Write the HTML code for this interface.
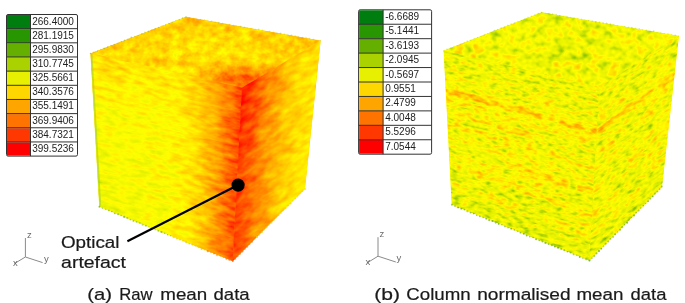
<!DOCTYPE html>
<html><head><meta charset="utf-8">
<style>
html,body{margin:0;padding:0;background:#fff;width:685px;height:303px;overflow:hidden}
svg{display:block;will-change:transform}
text{font-family:"Liberation Sans",sans-serif}
</style></head>
<body>
<svg width="685" height="303" viewBox="0 0 685 303">
<defs>
<filter id="blurG" x="-20%" y="-20%" width="140%" height="140%"><feGaussianBlur stdDeviation="5"/></filter>
<filter id="blurL" x="-20%" y="-20%" width="140%" height="140%"><feGaussianBlur stdDeviation="1.1"/></filter>
<filter id="fA1" x="-5%" y="-5%" width="110%" height="110%" color-interpolation-filters="sRGB">
  <feTurbulence type="fractalNoise" baseFrequency="0.07 0.22" numOctaves="3" seed="3" result="n"/>
  <feColorMatrix in="n" type="matrix" values="1 0 0 0 0  1 0 0 0 0  1 0 0 0 0  0 0 0 0 1" result="ng"/>
  <feComposite in="SourceGraphic" in2="ng" operator="arithmetic" k1="0" k2="1" k3="0.28" k4="-0.14" result="v"/>
  <feComponentTransfer in="v" result="c">
    <feFuncR type="table" tableValues="0.000 0.118 0.353 0.627 0.882 1.000 1.000 1.000 1.000 1.000 1.000"/>
    <feFuncG type="table" tableValues="0.431 0.549 0.667 0.804 0.933 1.000 0.843 0.667 0.471 0.235 0.000"/>
    <feFuncB type="table" tableValues="0.000 0.000 0.000 0.000 0.000 0.000 0.000 0.000 0.000 0.000 0.000"/>
  </feComponentTransfer>
  <feComposite in="c" in2="SourceAlpha" operator="in"/>
</filter>
<filter id="fA2" x="-5%" y="-5%" width="110%" height="110%" color-interpolation-filters="sRGB">
  <feTurbulence type="fractalNoise" baseFrequency="0.07 0.15" numOctaves="3" seed="7" result="n"/>
  <feColorMatrix in="n" type="matrix" values="1 0 0 0 0  1 0 0 0 0  1 0 0 0 0  0 0 0 0 1" result="ng"/>
  <feComposite in="SourceGraphic" in2="ng" operator="arithmetic" k1="0" k2="1" k3="0.28" k4="-0.14" result="v"/>
  <feComponentTransfer in="v" result="c">
    <feFuncR type="table" tableValues="0.000 0.118 0.353 0.627 0.882 1.000 1.000 1.000 1.000 1.000 1.000"/>
    <feFuncG type="table" tableValues="0.431 0.549 0.667 0.804 0.933 1.000 0.843 0.667 0.471 0.235 0.000"/>
    <feFuncB type="table" tableValues="0.000 0.000 0.000 0.000 0.000 0.000 0.000 0.000 0.000 0.000 0.000"/>
  </feComponentTransfer>
  <feComposite in="c" in2="SourceAlpha" operator="in"/>
</filter>
<filter id="fA3" x="-5%" y="-5%" width="110%" height="110%" color-interpolation-filters="sRGB">
  <feTurbulence type="fractalNoise" baseFrequency="0.1 0.12" numOctaves="3" seed="11" result="n"/>
  <feColorMatrix in="n" type="matrix" values="1 0 0 0 0  1 0 0 0 0  1 0 0 0 0  0 0 0 0 1" result="ng"/>
  <feComposite in="SourceGraphic" in2="ng" operator="arithmetic" k1="0" k2="1" k3="0.32" k4="-0.16" result="v"/>
  <feComponentTransfer in="v" result="c">
    <feFuncR type="table" tableValues="0.000 0.118 0.353 0.627 0.882 1.000 1.000 1.000 1.000 1.000 1.000"/>
    <feFuncG type="table" tableValues="0.431 0.549 0.667 0.804 0.933 1.000 0.843 0.667 0.471 0.235 0.000"/>
    <feFuncB type="table" tableValues="0.000 0.000 0.000 0.000 0.000 0.000 0.000 0.000 0.000 0.000 0.000"/>
  </feComponentTransfer>
  <feComposite in="c" in2="SourceAlpha" operator="in"/>
</filter>
<clipPath id="cp1"><polygon points="90.2,53.6 242.4,88.3 320.9,40.7 185.8,16.7"/></clipPath>
<clipPath id="cp2"><polygon points="90.4,53.3 242.4,87.7 232.9,261.3 99.2,206.8"/></clipPath>
<clipPath id="cp3"><polygon points="241.9,87.7 320.7,40.3 305.0,188.9 232.6,261.4"/></clipPath>
<clipPath id="cp4"><polygon points="443.4,50.8 599.8,87.6 679.2,36.0 541.5,12.2"/></clipPath>
<filter id="flt4" filterUnits="userSpaceOnUse" x="392.3" y="0.7" width="329.0" height="104.7" color-interpolation-filters="sRGB">
  <feTurbulence type="fractalNoise" baseFrequency="0.11 0.13" numOctaves="2" seed="21" result="n"/>
  <feColorMatrix in="n" type="matrix" values="1 0 0 0 0  1 0 0 0 0  1 0 0 0 0  0 0 0 0 1" result="ng"/>
  <feComposite in="SourceGraphic" in2="ng" operator="arithmetic" k1="0" k2="1" k3="0.5" k4="-0.25" result="v"/>
  <feComponentTransfer in="v" result="c">
    <feFuncR type="table" tableValues="0.000 0.118 0.353 0.627 0.882 1.000 1.000 1.000 1.000 1.000 1.000"/>
    <feFuncG type="table" tableValues="0.431 0.549 0.667 0.804 0.933 1.000 0.843 0.667 0.471 0.235 0.000"/>
    <feFuncB type="table" tableValues="0.000 0.000 0.000 0.000 0.000 0.000 0.000 0.000 0.000 0.000 0.000"/>
  </feComponentTransfer>
  <feComposite in="c" in2="SourceAlpha" operator="in"/>
</filter>
<clipPath id="cp5"><polygon points="443.6,50.5 599.8,87.0 589.5,260.6 451.7,204.7"/></clipPath>
<filter id="flt5" filterUnits="userSpaceOnUse" x="398.4" y="52.2" width="265.3" height="245.5" color-interpolation-filters="sRGB">
  <feTurbulence type="fractalNoise" baseFrequency="0.12 0.3" numOctaves="2" seed="5" result="n"/>
  <feColorMatrix in="n" type="matrix" values="1 0 0 0 0  1 0 0 0 0  1 0 0 0 0  0 0 0 0 1" result="ng"/>
  <feComposite in="SourceGraphic" in2="ng" operator="arithmetic" k1="0" k2="1" k3="0.5" k4="-0.25" result="v"/>
  <feComponentTransfer in="v" result="c">
    <feFuncR type="table" tableValues="0.000 0.118 0.353 0.627 0.882 1.000 1.000 1.000 1.000 1.000 1.000"/>
    <feFuncG type="table" tableValues="0.431 0.549 0.667 0.804 0.933 1.000 0.843 0.667 0.471 0.235 0.000"/>
    <feFuncB type="table" tableValues="0.000 0.000 0.000 0.000 0.000 0.000 0.000 0.000 0.000 0.000 0.000"/>
  </feComponentTransfer>
  <feComposite in="c" in2="SourceAlpha" operator="in"/>
</filter>
<clipPath id="cp6"><polygon points="599.3,87.0 679.0,35.6 662.0,186.9 589.2,260.7"/></clipPath>
<filter id="flt6" filterUnits="userSpaceOnUse" x="456.0" y="58.5" width="275.8" height="201.9" color-interpolation-filters="sRGB">
  <feTurbulence type="fractalNoise" baseFrequency="0.12 0.3" numOctaves="2" seed="9" result="n"/>
  <feColorMatrix in="n" type="matrix" values="1 0 0 0 0  1 0 0 0 0  1 0 0 0 0  0 0 0 0 1" result="ng"/>
  <feComposite in="SourceGraphic" in2="ng" operator="arithmetic" k1="0" k2="1" k3="0.5" k4="-0.25" result="v"/>
  <feComponentTransfer in="v" result="c">
    <feFuncR type="table" tableValues="0.000 0.118 0.353 0.627 0.882 1.000 1.000 1.000 1.000 1.000 1.000"/>
    <feFuncG type="table" tableValues="0.431 0.549 0.667 0.804 0.933 1.000 0.843 0.667 0.471 0.235 0.000"/>
    <feFuncB type="table" tableValues="0.000 0.000 0.000 0.000 0.000 0.000 0.000 0.000 0.000 0.000 0.000"/>
  </feComponentTransfer>
  <feComposite in="c" in2="SourceAlpha" operator="in"/>
</filter>
</defs>

<polygon points="90.6,53.6 186.0,17.0 320.5,40.7 304.8,188.6 232.7,261.0 99.5,206.5" fill="#ffa000"/><g clip-path="url(#cp1)"><g transform="rotate(0.00 242.1 88)" filter="url(#fA3)"><g transform="rotate(0.00 242.1 88)"><g filter="url(#blurG)"><polygon points="52.2,53.7 67.7,57.3 77.4,53.7 62.1,50.2" fill="#9c9c9c"/><polygon points="61.3,50.4 76.6,54.0 86.3,50.3 71.2,46.9" fill="#9c9c9c"/><polygon points="70.4,47.2 85.6,50.6 95.2,47.0 80.3,43.7" fill="#9c9c9c"/><polygon points="79.5,43.9 94.5,47.3 104.2,43.7 89.4,40.4" fill="#9c9c9c"/><polygon points="88.7,40.7 103.5,43.9 113.1,40.3 98.5,37.2" fill="#9c9c9c"/><polygon points="97.8,37.5 112.4,40.6 122.1,37.0 107.6,34.0" fill="#9c9c9c"/><polygon points="106.9,34.2 121.4,37.2 131.0,33.6 116.7,30.7" fill="#9c9c9c"/><polygon points="116.0,31.0 130.3,33.9 140.0,30.3 125.8,27.5" fill="#9c9c9c"/><polygon points="125.1,27.7 139.2,30.5 148.9,26.9 134.9,24.2" fill="#9c9c9c"/><polygon points="134.2,24.5 148.2,27.2 157.8,23.6 144.0,21.0" fill="#9d9d9d"/><polygon points="143.3,21.2 157.1,23.8 166.8,20.2 153.1,17.7" fill="#a0a0a0"/><polygon points="152.4,18.0 166.1,20.5 175.7,16.9 162.2,14.5" fill="#a3a3a3"/><polygon points="161.5,14.7 175.0,17.2 184.7,13.5 171.3,11.2" fill="#a6a6a6"/><polygon points="170.6,11.5 184.0,13.8 193.6,10.2 180.4,8.0" fill="#a6a6a6"/><polygon points="66.6,57.0 82.0,60.6 91.5,56.9 76.2,53.4" fill="#9c9c9c"/><polygon points="75.5,53.7 90.8,57.2 100.3,53.5 85.2,50.1" fill="#9c9c9c"/><polygon points="84.5,50.4 99.6,53.8 109.1,50.1 94.1,46.8" fill="#9c9c9c"/><polygon points="93.4,47.0 108.4,50.3 117.9,46.6 103.1,43.4" fill="#9c9c9c"/><polygon points="102.4,43.7 117.2,46.9 126.7,43.2 112.0,40.1" fill="#9c9c9c"/><polygon points="111.3,40.3 126.0,43.5 135.5,39.7 121.0,36.7" fill="#9c9c9c"/><polygon points="120.3,37.0 134.8,40.0 144.3,36.3 130.0,33.4" fill="#9c9c9c"/><polygon points="129.2,33.7 143.6,36.6 153.1,32.9 138.9,30.1" fill="#9c9c9c"/><polygon points="138.2,30.3 152.4,33.1 161.9,29.4 147.9,26.7" fill="#9c9c9c"/><polygon points="147.1,27.0 161.2,29.7 170.7,26.0 156.8,23.4" fill="#9d9d9d"/><polygon points="156.1,23.7 170.0,26.3 179.5,22.6 165.8,20.0" fill="#a0a0a0"/><polygon points="165.1,20.3 178.8,22.8 188.3,19.1 174.7,16.7" fill="#a3a3a3"/><polygon points="174.0,17.0 187.6,19.4 197.1,15.7 183.7,13.4" fill="#a6a6a6"/><polygon points="183.0,13.6 196.4,16.0 205.9,12.2 192.6,10.0" fill="#a6a6a6"/><polygon points="80.9,60.4 96.3,64.0 105.7,60.2 90.4,56.7" fill="#9b9b9b"/><polygon points="89.7,56.9 105.0,60.5 114.3,56.7 99.2,53.2" fill="#9b9b9b"/><polygon points="98.5,53.5 113.6,56.9 123.0,53.1 108.0,49.8" fill="#9b9b9b"/><polygon points="107.3,50.1 122.3,53.4 131.6,49.6 116.8,46.4" fill="#9b9b9b"/><polygon points="116.1,46.7 130.9,49.9 140.3,46.1 125.6,43.0" fill="#9b9b9b"/><polygon points="124.9,43.2 139.6,46.3 148.9,42.5 134.4,39.5" fill="#9b9b9b"/><polygon points="133.7,39.8 148.2,42.8 157.6,39.0 143.2,36.1" fill="#9b9b9b"/><polygon points="142.5,36.4 156.9,39.3 166.2,35.5 152.0,32.7" fill="#9b9b9b"/><polygon points="151.3,32.9 165.5,35.8 174.9,31.9 160.8,29.2" fill="#9b9b9b"/><polygon points="160.1,29.5 174.2,32.2 183.5,28.4 169.7,25.8" fill="#9c9c9c"/><polygon points="168.9,26.1 182.8,28.7 192.2,24.9 178.5,22.4" fill="#9f9f9f"/><polygon points="177.8,22.6 191.5,25.2 200.8,21.4 187.3,18.9" fill="#a2a2a2"/><polygon points="186.6,19.2 200.1,21.6 209.5,17.8 196.1,15.5" fill="#a5a5a5"/><polygon points="195.4,15.8 208.8,18.1 218.1,14.3 204.9,12.1" fill="#a5a5a5"/><polygon points="95.2,63.7 110.6,67.3 119.8,63.4 104.5,59.9" fill="#9a9a9a"/><polygon points="103.8,60.2 119.1,63.7 128.3,59.8 113.2,56.4" fill="#9a9a9a"/><polygon points="112.5,56.7 127.6,60.1 136.8,56.2 121.9,52.9" fill="#9a9a9a"/><polygon points="121.2,53.2 136.1,56.5 145.3,52.6 130.5,49.4" fill="#9a9a9a"/><polygon points="129.8,49.6 144.6,52.9 153.8,48.9 139.2,45.8" fill="#9a9a9a"/><polygon points="138.5,46.1 153.1,49.2 162.3,45.3 147.8,42.3" fill="#999999"/><polygon points="147.1,42.6 161.7,45.6 170.8,41.7 156.5,38.8" fill="#989898"/><polygon points="155.8,39.1 170.2,42.0 179.3,38.1 165.2,35.3" fill="#989898"/><polygon points="164.5,35.5 178.7,38.4 187.8,34.5 173.8,31.7" fill="#989898"/><polygon points="173.1,32.0 187.2,34.7 196.3,30.8 182.5,28.2" fill="#9a9a9a"/><polygon points="181.8,28.5 195.7,31.1 204.8,27.2 191.1,24.7" fill="#9e9e9e"/><polygon points="190.5,25.0 204.2,27.5 213.4,23.6 199.8,21.2" fill="#a1a1a1"/><polygon points="199.1,21.5 212.7,23.9 221.9,20.0 208.5,17.7" fill="#a4a4a4"/><polygon points="207.8,17.9 221.2,20.3 230.4,16.3 217.1,14.1" fill="#a4a4a4"/><polygon points="109.5,67.1 124.9,70.7 134.0,66.7 118.7,63.2" fill="#999999"/><polygon points="118.0,63.5 133.3,67.0 142.3,63.0 127.2,59.6" fill="#999999"/><polygon points="126.5,59.8 141.7,63.3 150.7,59.2 135.7,55.9" fill="#999999"/><polygon points="135.0,56.2 150.0,59.5 159.0,55.5 144.2,52.3" fill="#999999"/><polygon points="143.5,52.6 158.4,55.8 167.4,51.8 152.7,48.7" fill="#989898"/><polygon points="152.1,49.0 166.7,52.1 175.8,48.1 161.3,45.1" fill="#969696"/><polygon points="160.6,45.4 175.1,48.4 184.1,44.4 169.8,41.5" fill="#959595"/><polygon points="169.1,41.8 183.4,44.7 192.5,40.7 178.3,37.9" fill="#949494"/><polygon points="177.6,38.2 191.8,41.0 200.8,37.0 186.8,34.3" fill="#959595"/><polygon points="186.1,34.5 200.2,37.3 209.2,33.2 195.3,30.6" fill="#979797"/><polygon points="194.6,30.9 208.5,33.5 217.5,29.5 203.8,27.0" fill="#9c9c9c"/><polygon points="203.2,27.3 216.9,29.8 225.9,25.8 212.3,23.4" fill="#a0a0a0"/><polygon points="211.7,23.7 225.2,26.1 234.2,22.1 220.9,19.8" fill="#a3a3a3"/><polygon points="220.2,20.1 233.6,22.4 242.6,18.4 229.4,16.2" fill="#a3a3a3"/><polygon points="123.8,70.4 139.3,74.0 148.1,69.9 132.8,66.4" fill="#989898"/><polygon points="132.2,66.7 147.5,70.2 156.3,66.1 141.2,62.7" fill="#989898"/><polygon points="140.5,63.0 155.7,66.4 164.5,62.3 149.6,59.0" fill="#989898"/><polygon points="148.9,59.3 163.9,62.6 172.8,58.5 157.9,55.3" fill="#989898"/><polygon points="157.3,55.6 172.1,58.8 181.0,54.7 166.3,51.6" fill="#969696"/><polygon points="165.6,51.9 180.3,55.0 189.2,50.9 174.7,47.9" fill="#949494"/><polygon points="174.0,48.2 188.5,51.2 197.4,47.1 183.0,44.2" fill="#929292"/><polygon points="182.4,44.5 196.7,47.4 205.6,43.3 191.4,40.5" fill="#909090"/><polygon points="190.7,40.8 204.9,43.6 213.8,39.5 199.8,36.8" fill="#919191"/><polygon points="199.1,37.1 213.1,39.8 222.0,35.7 208.2,33.1" fill="#959595"/><polygon points="207.5,33.3 221.4,36.0 230.2,31.9 216.5,29.3" fill="#9a9a9a"/><polygon points="215.9,29.6 229.6,32.2 238.4,28.0 224.9,25.6" fill="#9f9f9f"/><polygon points="224.2,25.9 237.8,28.4 246.6,24.2 233.3,21.9" fill="#a2a2a2"/><polygon points="232.6,22.2 246.0,24.5 254.9,20.4 241.6,18.2" fill="#a2a2a2"/><polygon points="138.1,73.8 153.6,77.4 162.3,73.2 147.0,69.7" fill="#979797"/><polygon points="146.3,70.0 161.6,73.5 170.3,69.3 155.2,65.9" fill="#979797"/><polygon points="154.6,66.2 169.7,69.6 178.4,65.4 163.4,62.1" fill="#979797"/><polygon points="162.8,62.4 177.8,65.7 186.5,61.5 171.7,58.3" fill="#979797"/><polygon points="171.0,58.6 185.8,61.8 194.5,57.6 179.9,54.5" fill="#959595"/><polygon points="179.2,54.8 193.9,57.9 202.6,53.7 188.1,50.7" fill="#929292"/><polygon points="187.4,51.0 201.9,54.0 210.7,49.8 196.3,46.9" fill="#909090"/><polygon points="195.7,47.2 210.0,50.1 218.7,45.9 204.5,43.1" fill="#8d8d8d"/><polygon points="203.9,43.4 218.1,46.2 226.8,42.0 212.8,39.3" fill="#8f8f8f"/><polygon points="212.1,39.6 226.1,42.3 234.8,38.1 221.0,35.5" fill="#939393"/><polygon points="220.3,35.8 234.2,38.4 242.9,34.2 229.2,31.7" fill="#999999"/><polygon points="228.5,32.0 242.3,34.5 251.0,30.3 237.4,27.9" fill="#9e9e9e"/><polygon points="236.8,28.2 250.3,30.6 259.0,26.4 245.6,24.1" fill="#a1a1a1"/><polygon points="245.0,24.4 258.4,26.7 267.1,22.5 253.9,20.3" fill="#a1a1a1"/><polygon points="152.4,77.1 167.9,80.7 176.4,76.4 161.1,72.9" fill="#969696"/><polygon points="160.5,73.2 175.8,76.7 184.3,72.4 169.2,69.0" fill="#969696"/><polygon points="168.6,69.3 183.7,72.7 192.3,68.4 177.3,65.1" fill="#969696"/><polygon points="176.6,65.4 191.6,68.8 200.2,64.4 185.4,61.2" fill="#969696"/><polygon points="184.7,61.5 199.5,64.8 208.1,60.5 193.4,57.3" fill="#959595"/><polygon points="192.8,57.7 207.5,60.8 216.0,56.5 201.5,53.5" fill="#929292"/><polygon points="200.9,53.8 215.4,56.8 223.9,52.5 209.6,49.6" fill="#909090"/><polygon points="208.9,49.9 223.3,52.8 231.8,48.5 217.7,45.7" fill="#8f8f8f"/><polygon points="217.0,46.0 231.2,48.8 239.8,44.5 225.7,41.8" fill="#909090"/><polygon points="225.1,42.1 239.1,44.8 247.7,40.5 233.8,37.9" fill="#939393"/><polygon points="233.2,38.2 247.0,40.8 255.6,36.5 241.9,34.0" fill="#999999"/><polygon points="241.2,34.3 255.0,36.8 263.5,32.5 250.0,30.1" fill="#9e9e9e"/><polygon points="249.3,30.4 262.9,32.8 271.4,28.5 258.0,26.2" fill="#a1a1a1"/><polygon points="257.4,26.5 270.8,28.8 279.3,24.5 266.1,22.3" fill="#a1a1a1"/><polygon points="166.7,80.5 182.2,84.1 190.6,79.7 175.3,76.2" fill="#989898"/><polygon points="174.7,76.5 190.0,80.0 198.3,75.6 183.2,72.2" fill="#989898"/><polygon points="182.6,72.5 197.7,75.9 206.1,71.5 191.2,68.2" fill="#9f9f9f"/><polygon points="190.5,68.5 205.5,71.8 213.9,67.4 199.1,64.2" fill="#a1a1a1"/><polygon points="198.4,64.5 213.3,67.7 221.7,63.3 207.0,60.2" fill="#9b9b9b"/><polygon points="206.4,60.5 221.0,63.7 229.4,59.2 214.9,56.2" fill="#949494"/><polygon points="214.3,56.6 228.8,59.6 237.2,55.2 222.9,52.3" fill="#929292"/><polygon points="222.2,52.6 236.6,55.5 245.0,51.1 230.8,48.3" fill="#929292"/><polygon points="230.2,48.6 244.3,51.4 252.7,47.0 238.7,44.3" fill="#929292"/><polygon points="238.1,44.6 252.1,47.3 260.5,42.9 246.7,40.3" fill="#959595"/><polygon points="246.0,40.6 259.9,43.2 268.3,38.8 254.6,36.3" fill="#9a9a9a"/><polygon points="253.9,36.6 267.7,39.2 276.1,34.7 262.5,32.3" fill="#9e9e9e"/><polygon points="261.9,32.7 275.4,35.1 283.8,30.7 270.4,28.4" fill="#a1a1a1"/><polygon points="269.8,28.7 283.2,31.0 291.6,26.6 278.4,24.4" fill="#a1a1a1"/><polygon points="181.0,83.8 196.5,87.4 204.7,82.9 189.4,79.4" fill="#a9a9a9"/><polygon points="188.8,79.7 204.1,83.2 212.4,78.7 197.2,75.3" fill="#a9a9a9"/><polygon points="196.6,75.7 211.7,79.1 220.0,74.6 205.0,71.3" fill="#b2b2b2"/><polygon points="204.4,71.6 219.4,74.9 227.6,70.4 212.8,67.2" fill="#b4b4b4"/><polygon points="212.2,67.5 227.0,70.7 235.2,66.2 220.6,63.1" fill="#adadad"/><polygon points="220.0,63.4 234.6,66.5 242.8,62.0 228.4,59.0" fill="#9f9f9f"/><polygon points="227.7,59.4 242.2,62.4 250.5,57.9 236.1,54.9" fill="#959595"/><polygon points="235.5,55.3 249.9,58.2 258.1,53.7 243.9,50.9" fill="#949494"/><polygon points="243.3,51.2 257.5,54.0 265.7,49.5 251.7,46.8" fill="#959595"/><polygon points="251.1,47.1 265.1,49.8 273.3,45.3 259.5,42.7" fill="#979797"/><polygon points="258.9,43.0 272.7,45.7 281.0,41.2 267.3,38.6" fill="#9b9b9b"/><polygon points="266.6,39.0 280.4,41.5 288.6,37.0 275.0,34.6" fill="#9e9e9e"/><polygon points="274.4,34.9 288.0,37.3 296.2,32.8 282.8,30.5" fill="#a1a1a1"/><polygon points="282.2,30.8 295.6,33.1 303.8,28.6 290.6,26.4" fill="#a1a1a1"/><polygon points="195.4,87.2 210.8,90.8 218.9,86.2 203.6,82.7" fill="#b7b7b7"/><polygon points="203.0,83.0 218.3,86.5 226.4,81.9 211.2,78.5" fill="#b7b7b7"/><polygon points="210.6,78.8 225.8,82.2 233.8,77.6 218.9,74.3" fill="#c4c4c4"/><polygon points="218.3,74.7 233.2,78.0 241.3,73.4 226.5,70.1" fill="#c8c8c8"/><polygon points="225.9,70.5 240.7,73.7 248.8,69.1 234.1,66.0" fill="#bdbdbd"/><polygon points="233.5,66.3 248.2,69.4 256.3,64.8 241.8,61.8" fill="#ababab"/><polygon points="241.2,62.1 255.7,65.2 263.7,60.6 249.4,57.6" fill="#979797"/><polygon points="248.8,58.0 263.1,60.9 271.2,56.3 257.0,53.5" fill="#969696"/><polygon points="256.4,53.8 270.6,56.6 278.7,52.0 264.7,49.3" fill="#969696"/><polygon points="264.1,49.6 278.1,52.4 286.2,47.7 272.3,45.1" fill="#989898"/><polygon points="271.7,45.5 285.6,48.1 293.7,43.5 280.0,41.0" fill="#9b9b9b"/><polygon points="279.3,41.3 293.1,43.8 301.1,39.2 287.6,36.8" fill="#9e9e9e"/><polygon points="287.0,37.1 300.5,39.6 308.6,34.9 295.2,32.6" fill="#a1a1a1"/><polygon points="294.6,33.0 308.0,35.3 316.1,30.7 302.9,28.5" fill="#a1a1a1"/><polygon points="209.7,90.5 225.1,94.1 233.0,89.4 217.7,85.9" fill="#bfbfbf"/><polygon points="217.2,86.2 232.4,89.8 240.4,85.0 225.2,81.6" fill="#bfbfbf"/><polygon points="224.6,82.0 239.8,85.4 247.7,80.7 232.7,77.4" fill="#d2d2d2"/><polygon points="232.1,77.7 247.1,81.0 255.0,76.3 240.2,73.1" fill="#dadada"/><polygon points="239.6,73.5 254.4,76.7 262.4,72.0 247.7,68.9" fill="#c7c7c7"/><polygon points="247.1,69.2 261.8,72.3 269.7,67.6 255.2,64.6" fill="#b1b1b1"/><polygon points="254.6,64.9 269.1,68.0 277.0,63.2 262.7,60.3" fill="#9c9c9c"/><polygon points="262.1,60.7 276.4,63.6 284.3,58.9 270.2,56.1" fill="#969696"/><polygon points="269.6,56.4 283.8,59.2 291.7,54.5 277.7,51.8" fill="#969696"/><polygon points="277.1,52.2 291.1,54.9 299.0,50.2 285.1,47.6" fill="#989898"/><polygon points="284.6,47.9 298.4,50.5 306.3,45.8 292.6,43.3" fill="#9b9b9b"/><polygon points="292.0,43.6 305.8,46.2 313.7,41.4 300.1,39.0" fill="#9e9e9e"/><polygon points="299.5,39.4 313.1,41.8 321.0,37.1 307.6,34.8" fill="#a1a1a1"/><polygon points="307.0,35.1 320.4,37.4 328.3,32.7 315.1,30.5" fill="#a1a1a1"/><polygon points="224.0,93.8 239.4,97.5 247.2,92.7 231.9,89.1" fill="#bebebe"/><polygon points="231.3,89.5 246.6,93.0 254.4,88.2 239.2,84.8" fill="#bebebe"/><polygon points="238.7,85.1 253.8,88.6 261.6,83.8 246.6,80.4" fill="#d0d0d0"/><polygon points="246.0,80.8 261.0,84.1 268.7,79.3 253.9,76.1" fill="#d7d7d7"/><polygon points="253.3,76.4 268.2,79.7 275.9,74.8 261.3,71.7" fill="#c5c5c5"/><polygon points="260.7,72.1 275.3,75.2 283.1,70.4 268.6,67.4" fill="#b1b1b1"/><polygon points="268.0,67.7 282.5,70.7 290.3,65.9 276.0,63.0" fill="#9b9b9b"/><polygon points="275.4,63.4 289.7,66.3 297.5,61.5 283.3,58.7" fill="#969696"/><polygon points="282.7,59.0 296.9,61.8 304.7,57.0 290.6,54.3" fill="#969696"/><polygon points="290.1,54.7 304.1,57.4 311.8,52.6 298.0,50.0" fill="#989898"/><polygon points="297.4,50.3 311.3,52.9 319.0,48.1 305.3,45.6" fill="#9b9b9b"/><polygon points="304.7,46.0 318.5,48.5 326.2,43.7 312.7,41.3" fill="#9e9e9e"/><polygon points="312.1,41.6 325.6,44.0 333.4,39.2 320.0,36.9" fill="#a1a1a1"/><polygon points="319.4,37.3 332.8,39.6 340.6,34.8 327.4,32.6" fill="#a1a1a1"/><polygon points="238.3,97.2 253.7,100.8 261.3,95.9 246.1,92.4" fill="#bebebe"/><polygon points="245.5,92.8 260.8,96.3 268.4,91.4 253.2,88.0" fill="#bebebe"/><polygon points="252.7,88.3 267.8,91.7 275.4,86.8 260.4,83.5" fill="#d0d0d0"/><polygon points="259.9,83.9 274.9,87.2 282.5,82.3 267.6,79.1" fill="#d7d7d7"/><polygon points="267.1,79.4 281.9,82.6 289.5,77.7 274.8,74.6" fill="#c5c5c5"/><polygon points="274.3,75.0 288.9,78.1 296.5,73.2 282.0,70.2" fill="#b1b1b1"/><polygon points="281.5,70.5 296.0,73.5 303.6,68.6 289.2,65.7" fill="#9b9b9b"/><polygon points="288.7,66.1 303.0,69.0 310.6,64.1 296.4,61.3" fill="#969696"/><polygon points="295.8,61.6 310.0,64.5 317.6,59.5 303.6,56.8" fill="#969696"/><polygon points="303.0,57.2 317.1,59.9 324.7,55.0 310.8,52.4" fill="#989898"/><polygon points="310.2,52.7 324.1,55.4 331.7,50.5 318.0,47.9" fill="#9b9b9b"/><polygon points="317.4,48.3 331.1,50.8 338.7,45.9 325.2,43.5" fill="#9e9e9e"/><polygon points="324.6,43.9 338.2,46.3 345.8,41.4 332.4,39.1" fill="#a1a1a1"/><polygon points="331.8,39.4 345.2,41.7 352.8,36.8 339.6,34.6" fill="#a1a1a1"/></g></g></g></g><g clip-path="url(#cp2)"><g transform="rotate(12.79 242.1 88)" filter="url(#fA1)"><g transform="rotate(-12.79 242.1 88)"><g filter="url(#blurG)"><polygon points="65.5,25.3 81.0,28.4 82.0,43.7 66.7,40.3" fill="#999999"/><polygon points="66.6,39.2 81.9,42.5 82.9,57.7 67.8,54.2" fill="#999999"/><polygon points="67.7,53.1 82.8,56.6 83.8,71.8 68.9,68.1" fill="#929292"/><polygon points="68.8,67.0 83.7,70.7 84.7,85.9 69.9,82.0" fill="#8b8b8b"/><polygon points="69.9,80.9 84.7,84.8 85.6,100.0 71.0,96.0" fill="#848484"/><polygon points="70.9,94.8 85.6,98.9 86.6,114.1 72.1,109.9" fill="#7d7d7d"/><polygon points="72.0,108.8 86.5,113.0 87.5,128.2 73.2,123.8" fill="#7d7d7d"/><polygon points="73.1,122.7 87.4,127.1 88.4,142.3 74.3,137.7" fill="#7c7c7c"/><polygon points="74.2,136.6 88.3,141.2 89.3,156.4 75.4,151.6" fill="#7a7a7a"/><polygon points="75.3,150.5 89.2,155.3 90.2,170.5 76.5,165.5" fill="#787878"/><polygon points="76.4,164.4 90.2,169.4 91.2,184.6 77.6,179.4" fill="#767676"/><polygon points="77.5,178.3 91.1,183.5 92.1,198.7 78.7,193.3" fill="#747474"/><polygon points="78.6,192.2 92.0,197.6 93.0,212.8 79.7,207.2" fill="#737373"/><polygon points="79.7,206.1 92.9,211.7 93.9,226.9 80.8,221.2" fill="#737373"/><polygon points="79.8,28.2 95.3,31.3 96.1,46.7 80.8,43.4" fill="#999999"/><polygon points="80.8,42.3 96.1,45.6 96.9,61.0 81.8,57.5" fill="#999999"/><polygon points="81.7,56.4 96.8,59.9 97.7,75.3 82.7,71.6" fill="#929292"/><polygon points="82.6,70.4 97.6,74.1 98.4,89.6 83.6,85.7" fill="#8b8b8b"/><polygon points="83.6,84.5 98.4,88.4 99.2,103.8 84.6,99.7" fill="#848484"/><polygon points="84.5,98.6 99.1,102.7 99.9,118.1 85.5,113.8" fill="#7d7d7d"/><polygon points="85.4,112.7 99.9,117.0 100.7,132.4 86.4,127.9" fill="#7d7d7d"/><polygon points="86.3,126.8 100.6,131.2 101.5,146.6 87.4,142.0" fill="#7c7c7c"/><polygon points="87.3,140.9 101.4,145.5 102.2,160.9 88.3,156.1" fill="#7a7a7a"/><polygon points="88.2,155.0 102.2,159.8 103.0,175.2 89.2,170.2" fill="#787878"/><polygon points="89.1,169.0 102.9,174.0 103.7,189.5 90.1,184.2" fill="#767676"/><polygon points="90.1,183.1 103.7,188.3 104.5,203.7 91.1,198.3" fill="#747474"/><polygon points="91.0,197.2 104.4,202.6 105.2,218.0 92.0,212.4" fill="#737373"/><polygon points="91.9,211.3 105.2,216.9 106.0,232.3 92.9,226.5" fill="#737373"/><polygon points="94.2,31.1 109.6,34.2 110.3,49.8 95.0,46.5" fill="#979797"/><polygon points="94.9,45.4 110.2,48.7 110.9,64.3 95.8,60.8" fill="#979797"/><polygon points="95.7,59.6 110.8,63.1 111.5,78.7 96.5,75.0" fill="#919191"/><polygon points="96.5,73.9 111.5,77.6 112.1,93.2 97.3,89.3" fill="#8a8a8a"/><polygon points="97.3,88.1 112.1,92.0 112.7,107.6 98.1,103.5" fill="#838383"/><polygon points="98.0,102.4 112.7,106.5 113.3,122.1 98.9,117.8" fill="#7d7d7d"/><polygon points="98.8,116.6 113.3,120.9 113.9,136.5 99.6,132.0" fill="#7d7d7d"/><polygon points="99.6,130.9 113.9,135.4 114.5,151.0 100.4,146.3" fill="#7d7d7d"/><polygon points="100.3,145.2 114.5,149.8 115.1,165.4 101.2,160.6" fill="#7b7b7b"/><polygon points="101.1,159.4 115.1,164.2 115.7,179.8 102.0,174.8" fill="#797979"/><polygon points="101.9,173.7 115.7,178.7 116.3,194.3 102.7,189.1" fill="#787878"/><polygon points="102.7,187.9 116.3,193.1 116.9,208.7 103.5,203.3" fill="#767676"/><polygon points="103.4,202.2 116.9,207.6 117.5,223.2 104.3,217.6" fill="#747474"/><polygon points="104.2,216.4 117.5,222.0 118.1,237.6 105.0,231.8" fill="#747474"/><polygon points="108.5,34.0 124.0,37.1 124.5,52.9 109.2,49.6" fill="#949494"/><polygon points="109.1,48.4 124.4,51.8 124.9,67.6 109.8,64.0" fill="#949494"/><polygon points="109.7,62.9 124.9,66.4 125.3,82.2 110.4,78.5" fill="#8f8f8f"/><polygon points="110.3,77.3 125.3,81.0 125.8,96.8 111.0,92.9" fill="#898989"/><polygon points="111.0,91.7 125.7,95.6 126.2,111.4 111.6,107.3" fill="#838383"/><polygon points="111.6,106.2 126.2,110.2 126.7,126.0 112.2,121.7" fill="#7e7e7e"/><polygon points="112.2,120.6 126.6,124.9 127.1,140.6 112.8,136.2" fill="#7e7e7e"/><polygon points="112.8,135.0 127.1,139.5 127.6,155.3 113.5,150.6" fill="#7d7d7d"/><polygon points="113.4,149.5 127.5,154.1 128.0,169.9 114.1,165.0" fill="#7c7c7c"/><polygon points="114.0,163.9 128.0,168.7 128.4,184.5 114.7,179.5" fill="#7a7a7a"/><polygon points="114.6,178.3 128.4,183.3 128.9,199.1 115.3,193.9" fill="#797979"/><polygon points="115.3,192.7 128.9,197.9 129.3,213.7 115.9,208.3" fill="#777777"/><polygon points="115.9,207.2 129.3,212.6 129.8,228.4 116.5,222.8" fill="#767676"/><polygon points="116.5,221.6 129.7,227.2 130.2,243.0 117.1,237.2" fill="#767676"/><polygon points="122.8,36.9 138.3,40.1 138.6,56.0 123.3,52.7" fill="#929292"/><polygon points="123.3,51.5 138.6,54.8 138.9,70.8 123.8,67.3" fill="#929292"/><polygon points="123.7,66.1 138.9,69.6 139.2,85.6 124.2,81.9" fill="#8d8d8d"/><polygon points="124.2,80.7 139.2,84.4 139.5,100.4 124.7,96.5" fill="#888888"/><polygon points="124.7,95.3 139.4,99.2 139.8,115.2 125.1,111.1" fill="#838383"/><polygon points="125.1,109.9 139.7,114.0 140.0,130.0 125.6,125.7" fill="#7e7e7e"/><polygon points="125.6,124.5 140.0,128.8 140.3,144.8 126.1,140.3" fill="#7e7e7e"/><polygon points="126.0,139.1 140.3,143.6 140.6,159.6 126.5,154.9" fill="#7e7e7e"/><polygon points="126.5,153.7 140.6,158.4 140.9,174.4 127.0,169.5" fill="#7d7d7d"/><polygon points="126.9,168.4 140.9,173.2 141.2,189.2 127.4,184.1" fill="#7b7b7b"/><polygon points="127.4,183.0 141.2,188.0 141.5,203.9 127.9,198.7" fill="#7a7a7a"/><polygon points="127.8,197.6 141.5,202.8 141.8,218.7 128.3,213.3" fill="#797979"/><polygon points="128.3,212.2 141.7,217.6 142.0,233.5 128.8,227.9" fill="#787878"/><polygon points="128.8,226.8 142.0,232.3 142.3,248.3 129.3,242.5" fill="#787878"/><polygon points="137.2,39.8 152.6,43.0 152.8,59.1 137.5,55.8" fill="#909090"/><polygon points="137.5,54.6 152.8,57.9 152.9,74.1 137.8,70.6" fill="#909090"/><polygon points="137.8,69.4 152.9,72.9 153.0,89.1 138.1,85.3" fill="#8c8c8c"/><polygon points="138.1,84.2 153.0,87.9 153.2,104.0 138.4,100.1" fill="#878787"/><polygon points="138.4,98.9 153.1,102.8 153.3,119.0 138.7,114.9" fill="#838383"/><polygon points="138.7,113.7 153.3,117.8 153.4,133.9 139.0,129.7" fill="#7f7f7f"/><polygon points="138.9,128.5 153.4,132.7 153.5,148.9 139.3,144.4" fill="#7f7f7f"/><polygon points="139.2,143.3 153.5,147.7 153.7,163.9 139.6,159.2" fill="#7e7e7e"/><polygon points="139.5,158.0 153.7,162.7 153.8,178.8 139.9,174.0" fill="#7d7d7d"/><polygon points="139.8,172.8 153.8,177.6 153.9,193.8 140.2,188.8" fill="#7c7c7c"/><polygon points="140.1,187.6 153.9,192.6 154.1,208.8 140.5,203.6" fill="#7c7c7c"/><polygon points="140.4,202.4 154.0,207.6 154.2,223.7 140.8,218.3" fill="#7b7b7b"/><polygon points="140.7,217.2 154.2,222.5 154.3,238.7 141.1,233.1" fill="#7a7a7a"/><polygon points="141.0,231.9 154.3,237.5 154.4,253.7 141.4,247.9" fill="#7a7a7a"/><polygon points="151.5,42.7 167.0,45.9 166.9,62.2 151.6,58.9" fill="#8d8d8d"/><polygon points="151.6,57.7 166.9,61.0 166.9,77.4 151.8,73.8" fill="#8d8d8d"/><polygon points="151.8,72.6 166.9,76.1 166.9,92.5 151.9,88.8" fill="#8a8a8a"/><polygon points="151.9,87.6 166.9,91.3 166.8,107.6 152.1,103.7" fill="#868686"/><polygon points="152.0,102.5 166.8,106.4 166.8,122.8 152.2,118.7" fill="#838383"/><polygon points="152.2,117.5 166.8,121.6 166.8,137.9 152.3,133.6" fill="#7f7f7f"/><polygon points="152.3,132.4 166.8,136.7 166.8,153.0 152.5,148.6" fill="#7f7f7f"/><polygon points="152.5,147.4 166.8,151.8 166.7,168.2 152.6,163.5" fill="#7f7f7f"/><polygon points="152.6,162.3 166.7,167.0 166.7,183.3 152.8,178.5" fill="#7e7e7e"/><polygon points="152.8,177.3 166.7,182.1 166.7,198.5 152.9,193.4" fill="#7e7e7e"/><polygon points="152.9,192.2 166.7,197.2 166.6,213.6 153.0,208.4" fill="#7d7d7d"/><polygon points="153.0,207.2 166.6,212.4 166.6,228.7 153.2,223.3" fill="#7c7c7c"/><polygon points="153.2,222.1 166.6,227.5 166.6,243.9 153.3,238.3" fill="#7c7c7c"/><polygon points="153.3,237.1 166.6,242.7 166.5,259.0 153.5,253.2" fill="#7c7c7c"/><polygon points="165.8,45.6 181.3,48.8 181.1,65.3 165.8,62.0" fill="#8d8d8d"/><polygon points="165.8,60.8 181.1,64.1 180.9,80.6 165.8,77.1" fill="#8d8d8d"/><polygon points="165.8,75.9 180.9,79.4 180.7,95.9 165.8,92.2" fill="#8b8b8b"/><polygon points="165.8,91.0 180.7,94.7 180.5,111.2 165.7,107.3" fill="#888888"/><polygon points="165.7,106.1 180.5,110.0 180.3,126.6 165.7,122.5" fill="#858585"/><polygon points="165.7,121.3 180.4,125.3 180.2,141.9 165.7,137.6" fill="#828282"/><polygon points="165.7,136.4 180.2,140.6 180.0,157.2 165.7,152.7" fill="#828282"/><polygon points="165.7,151.5 180.0,156.0 179.8,172.5 165.7,167.8" fill="#828282"/><polygon points="165.7,166.6 179.8,171.3 179.6,187.8 165.7,183.0" fill="#828282"/><polygon points="165.7,181.8 179.6,186.6 179.4,203.1 165.6,198.1" fill="#818181"/><polygon points="165.6,196.9 179.4,201.9 179.2,218.4 165.6,213.2" fill="#818181"/><polygon points="165.6,212.0 179.2,217.2 179.0,233.7 165.6,228.3" fill="#818181"/><polygon points="165.6,227.1 179.0,232.5 178.8,249.0 165.6,243.5" fill="#808080"/><polygon points="165.6,242.2 178.9,247.8 178.7,264.4 165.6,258.6" fill="#808080"/><polygon points="180.1,48.5 195.6,51.7 195.2,68.4 180.0,65.1" fill="#929292"/><polygon points="180.0,63.8 195.3,67.2 194.9,83.9 179.8,80.4" fill="#929292"/><polygon points="179.8,79.1 194.9,82.7 194.6,99.4 179.6,95.7" fill="#909090"/><polygon points="179.6,94.4 194.6,98.1 194.2,114.9 179.4,111.0" fill="#8e8e8e"/><polygon points="179.4,109.7 194.2,113.6 193.9,130.3 179.3,126.3" fill="#8c8c8c"/><polygon points="179.3,125.0 193.9,129.1 193.5,145.8 179.1,141.6" fill="#8a8a8a"/><polygon points="179.1,140.3 193.5,144.6 193.2,161.3 178.9,156.8" fill="#8a8a8a"/><polygon points="178.9,155.6 193.2,160.1 192.8,176.8 178.7,172.1" fill="#8a8a8a"/><polygon points="178.7,170.9 192.9,175.6 192.5,192.3 178.6,187.4" fill="#8a8a8a"/><polygon points="178.6,186.2 192.5,191.0 192.1,207.8 178.4,202.7" fill="#8a8a8a"/><polygon points="178.4,201.5 192.2,206.5 191.8,223.3 178.2,218.0" fill="#8a8a8a"/><polygon points="178.2,216.8 191.8,222.0 191.5,238.7 178.0,233.3" fill="#898989"/><polygon points="178.0,232.1 191.5,237.5 191.1,254.2 177.9,248.6" fill="#898989"/><polygon points="177.9,247.4 191.1,253.0 190.8,269.7 177.7,263.9" fill="#898989"/><polygon points="194.5,51.5 209.9,54.6 209.4,71.5 194.1,68.2" fill="#9e9e9e"/><polygon points="194.1,66.9 209.4,70.2 208.9,87.2 193.8,83.6" fill="#9e9e9e"/><polygon points="193.8,82.4 208.9,85.9 208.4,102.8 193.4,99.1" fill="#9d9d9d"/><polygon points="193.5,97.9 208.4,101.6 207.9,118.5 193.1,114.6" fill="#9c9c9c"/><polygon points="193.1,113.3 207.9,117.2 207.4,134.1 192.8,130.0" fill="#9a9a9a"/><polygon points="192.8,128.8 207.4,132.9 206.9,149.8 192.5,145.5" fill="#999999"/><polygon points="192.5,144.3 206.9,148.5 206.4,165.4 192.1,161.0" fill="#999999"/><polygon points="192.1,159.7 206.4,164.2 205.9,181.1 191.8,176.5" fill="#999999"/><polygon points="191.8,175.2 205.9,179.9 205.4,196.8 191.5,191.9" fill="#999999"/><polygon points="191.5,190.7 205.4,195.5 204.9,212.4 191.1,207.4" fill="#999999"/><polygon points="191.1,206.2 204.9,211.2 204.4,228.1 190.8,222.9" fill="#999999"/><polygon points="190.8,221.6 204.4,226.8 203.9,243.7 190.5,238.3" fill="#999999"/><polygon points="190.5,237.1 203.9,242.5 203.4,259.4 190.1,253.8" fill="#999999"/><polygon points="190.2,252.6 203.4,258.1 202.9,275.1 189.8,269.3" fill="#999999"/><polygon points="208.8,54.4 224.3,57.5 223.6,74.6 208.3,71.3" fill="#b1b1b1"/><polygon points="208.3,70.0 223.6,73.3 222.9,90.4 207.8,86.9" fill="#b1b1b1"/><polygon points="207.8,85.6 223.0,89.2 222.2,106.3 207.3,102.5" fill="#b1b1b1"/><polygon points="207.3,101.3 222.3,105.0 221.6,122.1 206.8,118.2" fill="#b0b0b0"/><polygon points="206.8,116.9 221.6,120.8 220.9,137.9 206.3,133.8" fill="#afafaf"/><polygon points="206.4,132.6 221.0,136.7 220.3,153.8 205.8,149.5" fill="#afafaf"/><polygon points="205.9,148.2 220.3,152.5 219.6,169.6 205.3,165.1" fill="#afafaf"/><polygon points="205.4,163.9 219.7,168.3 218.9,185.4 204.8,180.8" fill="#afafaf"/><polygon points="204.9,179.5 219.0,184.1 218.3,201.2 204.4,196.4" fill="#afafaf"/><polygon points="204.4,195.2 218.3,200.0 217.6,217.1 203.9,212.1" fill="#afafaf"/><polygon points="203.9,210.8 217.7,215.8 217.0,232.9 203.4,227.7" fill="#afafaf"/><polygon points="203.4,226.4 217.0,231.6 216.3,248.7 202.9,243.3" fill="#afafaf"/><polygon points="202.9,242.1 216.3,247.5 215.6,264.6 202.4,259.0" fill="#afafaf"/><polygon points="202.4,257.7 215.7,263.3 215.0,280.4 201.9,274.6" fill="#afafaf"/><polygon points="223.1,57.3 238.6,60.4 237.7,77.7 222.4,74.3" fill="#c9c9c9"/><polygon points="222.5,73.1 237.8,76.4 236.9,93.7 221.8,90.2" fill="#c9c9c9"/><polygon points="221.8,88.9 237.0,92.4 236.1,109.7 221.1,106.0" fill="#c9c9c9"/><polygon points="221.2,104.7 236.2,108.4 235.3,125.7 220.5,121.8" fill="#c9c9c9"/><polygon points="220.5,120.5 235.3,124.4 234.4,141.7 219.8,137.6" fill="#c9c9c9"/><polygon points="219.9,136.4 234.5,140.4 233.6,157.7 219.2,153.4" fill="#c9c9c9"/><polygon points="219.2,152.2 233.7,156.4 232.8,173.7 218.5,169.3" fill="#c9c9c9"/><polygon points="218.6,168.0 232.9,172.4 232.0,189.7 217.9,185.1" fill="#c9c9c9"/><polygon points="217.9,183.8 232.1,188.4 231.2,205.7 217.2,200.9" fill="#c9c9c9"/><polygon points="217.3,199.6 231.2,204.4 230.4,221.7 216.6,216.7" fill="#c9c9c9"/><polygon points="216.7,215.4 230.4,220.5 229.5,237.7 216.0,232.5" fill="#c9c9c9"/><polygon points="216.0,231.3 229.6,236.5 228.7,253.7 215.3,248.3" fill="#c9c9c9"/><polygon points="215.4,247.1 228.8,252.5 227.9,269.7 214.7,264.2" fill="#c9c9c9"/><polygon points="214.7,262.9 228.0,268.5 227.1,285.7 214.0,280.0" fill="#c9c9c9"/><polygon points="237.5,60.2 252.9,63.3 251.9,80.8 236.6,77.4" fill="#e3e3e3"/><polygon points="236.7,76.2 252.0,79.5 250.9,97.0 235.8,93.4" fill="#e3e3e3"/><polygon points="235.8,92.2 251.0,95.7 249.9,113.1 235.0,109.4" fill="#e3e3e3"/><polygon points="235.0,108.1 250.0,111.8 249.0,129.3 234.2,125.4" fill="#e3e3e3"/><polygon points="234.2,124.1 249.0,128.0 248.0,145.5 233.4,141.4" fill="#e3e3e3"/><polygon points="233.4,140.1 248.1,144.2 247.0,161.7 232.6,157.4" fill="#e3e3e3"/><polygon points="232.6,156.1 247.1,160.4 246.0,177.9 231.8,173.4" fill="#e3e3e3"/><polygon points="231.8,172.1 246.1,176.6 245.0,194.0 230.9,189.4" fill="#e3e3e3"/><polygon points="231.0,188.1 245.1,192.7 244.1,210.2 230.1,205.4" fill="#e3e3e3"/><polygon points="230.2,204.1 244.1,208.9 243.1,226.4 229.3,221.4" fill="#e3e3e3"/><polygon points="229.4,220.1 243.2,225.1 242.1,242.6 228.5,237.3" fill="#e3e3e3"/><polygon points="228.6,236.1 242.2,241.3 241.1,258.7 227.7,253.3" fill="#e3e3e3"/><polygon points="227.8,252.1 241.2,257.4 240.2,274.9 226.9,269.3" fill="#e3e3e3"/><polygon points="227.0,268.1 240.2,273.6 239.2,291.1 226.1,285.3" fill="#e3e3e3"/><polygon points="251.8,63.1 267.3,66.2 266.0,83.9 250.7,80.5" fill="#e3e3e3"/><polygon points="250.8,79.2 266.1,82.6 264.9,100.2 249.8,96.7" fill="#e3e3e3"/><polygon points="249.9,95.4 265.0,98.9 263.8,116.6 248.8,112.9" fill="#e3e3e3"/><polygon points="248.9,111.6 263.9,115.3 262.6,132.9 247.9,129.0" fill="#e3e3e3"/><polygon points="247.9,127.7 262.7,131.6 261.5,149.3 246.9,145.2" fill="#e3e3e3"/><polygon points="247.0,143.9 261.6,148.0 260.4,165.6 245.9,161.4" fill="#e3e3e3"/><polygon points="246.0,160.1 260.5,164.3 259.2,182.0 245.0,177.5" fill="#e3e3e3"/><polygon points="245.0,176.2 259.3,180.7 258.1,198.3 244.0,193.7" fill="#e3e3e3"/><polygon points="244.1,192.4 258.2,197.0 257.0,214.7 243.0,209.8" fill="#e3e3e3"/><polygon points="243.1,208.6 257.1,213.4 255.8,231.0 242.1,226.0" fill="#e3e3e3"/><polygon points="242.2,224.7 255.9,229.7 254.7,247.4 241.1,242.2" fill="#e3e3e3"/><polygon points="241.2,240.9 254.8,246.1 253.6,263.7 240.1,258.3" fill="#e3e3e3"/><polygon points="240.2,257.0 253.7,262.4 252.4,280.1 239.2,274.5" fill="#e3e3e3"/><polygon points="239.3,273.2 252.5,278.8 251.3,296.4 238.2,290.7" fill="#e3e3e3"/></g></g></g></g><g clip-path="url(#cp3)"><g transform="rotate(-31.10 242.1 88)" filter="url(#fA2)"><g transform="rotate(31.10 242.1 88)"><g filter="url(#blurG)"><polygon points="231.3,68.1 239.3,63.7 238.4,81.2 230.5,85.8" fill="#f7f7f7"/><polygon points="230.6,84.5 238.5,79.9 237.6,97.4 229.7,102.2" fill="#f7f7f7"/><polygon points="229.8,100.9 237.6,96.1 236.7,113.6 228.9,118.7" fill="#f5f5f5"/><polygon points="229.0,117.4 236.8,112.3 235.9,129.8 228.2,135.1" fill="#f1f1f1"/><polygon points="228.2,133.8 235.9,128.5 235.0,146.0 227.4,151.5" fill="#eeeeee"/><polygon points="227.4,150.2 235.1,144.7 234.2,162.2 226.6,167.9" fill="#ebebeb"/><polygon points="226.6,166.6 234.3,160.9 233.3,178.3 225.8,184.4" fill="#e8e8e8"/><polygon points="225.9,183.0 233.4,177.1 232.5,194.5 225.0,200.8" fill="#e8e8e8"/><polygon points="225.1,199.5 232.6,193.2 231.7,210.7 224.2,217.2" fill="#e8e8e8"/><polygon points="224.3,215.9 231.7,209.4 230.8,226.9 223.5,233.6" fill="#e8e8e8"/><polygon points="223.5,232.3 230.9,225.6 230.0,243.1 222.7,250.0" fill="#e8e8e8"/><polygon points="222.7,248.7 230.0,241.8 229.1,259.3 221.9,266.5" fill="#e8e8e8"/><polygon points="221.9,265.2 229.2,258.0 228.3,275.5 221.1,282.9" fill="#e8e8e8"/><polygon points="221.2,281.6 228.4,274.2 227.5,291.7 220.3,299.3" fill="#e8e8e8"/><polygon points="238.7,64.1 246.7,59.7 245.7,76.9 237.8,81.6" fill="#f7f7f7"/><polygon points="237.9,80.3 245.8,75.7 244.8,92.9 237.0,97.8" fill="#f7f7f7"/><polygon points="237.0,96.5 244.9,91.6 243.9,108.9 236.1,114.0" fill="#f5f5f5"/><polygon points="236.2,112.7 244.0,107.6 243.0,124.9 235.3,130.2" fill="#f1f1f1"/><polygon points="235.4,128.9 243.1,123.6 242.1,140.8 234.5,146.4" fill="#eeeeee"/><polygon points="234.5,145.1 242.2,139.6 241.2,156.8 233.6,162.6" fill="#ebebeb"/><polygon points="233.7,161.3 241.3,155.5 240.3,172.8 232.8,178.8" fill="#e8e8e8"/><polygon points="232.9,177.5 240.4,171.5 239.4,188.8 231.9,195.0" fill="#e8e8e8"/><polygon points="232.0,193.7 239.5,187.5 238.5,204.7 231.1,211.2" fill="#e8e8e8"/><polygon points="231.2,209.9 238.6,203.4 237.6,220.7 230.3,227.4" fill="#e8e8e8"/><polygon points="230.3,226.1 237.7,219.4 236.7,236.7 229.4,243.6" fill="#e8e8e8"/><polygon points="229.5,242.3 236.8,235.4 235.9,252.6 228.6,259.8" fill="#e8e8e8"/><polygon points="228.7,258.5 235.9,251.4 235.0,268.6 227.8,276.0" fill="#e8e8e8"/><polygon points="227.8,274.7 235.0,267.3 234.1,284.6 226.9,292.2" fill="#e8e8e8"/><polygon points="246.1,60.0 254.0,55.7 253.0,72.7 245.1,77.3" fill="#ededed"/><polygon points="245.2,76.0 253.1,71.4 252.1,88.4 244.2,93.3" fill="#ededed"/><polygon points="244.3,92.0 252.1,87.2 251.1,104.2 243.3,109.3" fill="#ebebeb"/><polygon points="243.4,108.0 251.2,102.9 250.2,119.9 242.4,125.3" fill="#e8e8e8"/><polygon points="242.5,124.0 250.2,118.7 249.2,135.7 241.6,141.2" fill="#e6e6e6"/><polygon points="241.6,140.0 249.3,134.4 248.3,151.5 240.7,157.2" fill="#e3e3e3"/><polygon points="240.7,156.0 248.3,150.2 247.3,167.2 239.8,173.2" fill="#e0e0e0"/><polygon points="239.8,171.9 247.4,166.0 246.4,183.0 238.9,189.2" fill="#e0e0e0"/><polygon points="239.0,187.9 246.4,181.7 245.4,198.7 238.0,205.2" fill="#e0e0e0"/><polygon points="238.1,203.9 245.5,197.5 244.5,214.5 237.1,221.2" fill="#e0e0e0"/><polygon points="237.2,219.9 244.5,213.2 243.5,230.2 236.2,237.2" fill="#e0e0e0"/><polygon points="236.3,235.9 243.6,229.0 242.6,246.0 235.3,253.2" fill="#e0e0e0"/><polygon points="235.4,251.9 242.6,244.7 241.6,261.7 234.4,269.2" fill="#e0e0e0"/><polygon points="234.5,267.9 241.7,260.5 240.7,277.5 233.5,285.2" fill="#e0e0e0"/><polygon points="253.5,56.0 261.4,51.6 260.3,68.4 252.4,73.0" fill="#e0e0e0"/><polygon points="252.5,71.8 260.4,67.2 259.3,83.9 251.5,88.8" fill="#e0e0e0"/><polygon points="251.6,87.5 259.4,82.7 258.3,99.5 250.5,104.6" fill="#dedede"/><polygon points="250.6,103.3 258.4,98.2 257.3,115.0 249.6,120.3" fill="#dcdcdc"/><polygon points="249.7,119.1 257.4,113.8 256.3,130.6 248.6,136.1" fill="#dadada"/><polygon points="248.7,134.8 256.4,129.3 255.3,146.1 247.7,151.9" fill="#d7d7d7"/><polygon points="247.8,150.6 255.4,144.9 254.3,161.6 246.8,167.7" fill="#d5d5d5"/><polygon points="246.8,166.4 254.4,160.4 253.3,177.2 245.8,183.4" fill="#d5d5d5"/><polygon points="245.9,182.2 253.4,175.9 252.3,192.7 244.9,199.2" fill="#d5d5d5"/><polygon points="244.9,197.9 252.4,191.5 251.3,208.3 243.9,215.0" fill="#d5d5d5"/><polygon points="244.0,213.7 251.4,207.0 250.3,223.8 243.0,230.8" fill="#d5d5d5"/><polygon points="243.0,229.5 250.4,222.6 249.3,239.3 242.0,246.5" fill="#d5d5d5"/><polygon points="242.1,245.3 249.4,238.1 248.3,254.9 241.1,262.3" fill="#d5d5d5"/><polygon points="241.2,261.0 248.4,253.6 247.3,270.4 240.1,278.1" fill="#d5d5d5"/><polygon points="260.8,51.9 268.8,47.6 267.6,64.1 259.7,68.8" fill="#d1d1d1"/><polygon points="259.8,67.5 267.7,62.9 266.6,79.5 258.7,84.3" fill="#d1d1d1"/><polygon points="258.8,83.1 266.7,78.2 265.5,94.8 257.7,99.9" fill="#d0d0d0"/><polygon points="257.8,98.6 265.6,93.6 264.5,110.1 256.7,115.4" fill="#cecece"/><polygon points="256.8,114.2 264.5,108.9 263.4,125.4 255.7,131.0" fill="#cccccc"/><polygon points="255.8,129.7 263.5,124.2 262.3,140.8 254.7,146.5" fill="#cacaca"/><polygon points="254.8,145.3 262.4,139.5 261.3,156.1 253.7,162.1" fill="#c9c9c9"/><polygon points="253.8,160.8 261.4,154.9 260.2,171.4 252.7,177.6" fill="#c9c9c9"/><polygon points="252.8,176.4 260.3,170.2 259.2,186.7 251.7,193.2" fill="#c9c9c9"/><polygon points="251.8,192.0 259.3,185.5 258.1,202.0 250.7,208.8" fill="#c9c9c9"/><polygon points="250.8,207.5 258.2,200.8 257.1,217.4 249.7,224.3" fill="#c9c9c9"/><polygon points="249.8,223.1 257.1,216.1 256.0,232.7 248.7,239.9" fill="#c9c9c9"/><polygon points="248.8,238.6 256.1,231.5 254.9,248.0 247.7,255.4" fill="#c9c9c9"/><polygon points="247.8,254.2 255.0,246.8 253.9,263.3 246.7,271.0" fill="#c9c9c9"/><polygon points="268.2,47.9 276.2,43.6 275.0,59.9 267.1,64.5" fill="#c3c3c3"/><polygon points="267.1,63.3 275.0,58.7 273.8,75.0 266.0,79.8" fill="#c3c3c3"/><polygon points="266.1,78.6 273.9,73.8 272.7,90.1 264.9,95.2" fill="#c2c2c2"/><polygon points="265.0,93.9 272.8,88.9 271.6,105.2 263.9,110.5" fill="#c1c1c1"/><polygon points="264.0,109.3 271.7,104.0 270.5,120.3 262.8,125.8" fill="#c0c0c0"/><polygon points="262.9,124.6 270.6,119.1 269.4,135.4 261.8,141.2" fill="#bfbfbf"/><polygon points="261.9,140.0 269.5,134.2 268.3,150.5 260.7,156.5" fill="#bdbdbd"/><polygon points="260.8,155.3 268.4,149.3 267.2,165.6 259.7,171.9" fill="#bdbdbd"/><polygon points="259.8,170.6 267.2,164.4 266.0,180.7 258.6,187.2" fill="#bdbdbd"/><polygon points="258.7,186.0 266.1,179.5 264.9,195.8 257.6,202.5" fill="#bdbdbd"/><polygon points="257.6,201.3 265.0,194.6 263.8,210.9 256.5,217.9" fill="#bdbdbd"/><polygon points="256.6,216.7 263.9,209.7 262.7,226.0 255.5,233.2" fill="#bdbdbd"/><polygon points="255.5,232.0 262.8,224.8 261.6,241.2 254.4,248.6" fill="#bdbdbd"/><polygon points="254.5,247.3 261.7,239.9 260.5,256.3 253.3,263.9" fill="#bdbdbd"/><polygon points="275.6,43.9 283.5,39.5 282.3,55.6 274.4,60.2" fill="#b6b6b6"/><polygon points="274.5,59.0 282.4,54.4 281.1,70.5 273.3,75.3" fill="#b6b6b6"/><polygon points="273.3,74.1 281.2,69.3 279.9,85.4 272.1,90.5" fill="#b6b6b6"/><polygon points="272.2,89.3 280.0,84.2 278.8,100.3 271.0,105.6" fill="#b5b5b5"/><polygon points="271.1,104.4 278.9,99.1 277.6,115.2 269.9,120.7" fill="#b4b4b4"/><polygon points="270.0,119.5 277.7,114.0 276.4,130.1 268.8,135.8" fill="#b3b3b3"/><polygon points="268.9,134.6 276.5,128.9 275.3,144.9 267.7,151.0" fill="#b3b3b3"/><polygon points="267.8,149.7 275.4,143.8 274.1,159.8 266.6,166.1" fill="#b3b3b3"/><polygon points="266.7,164.9 274.2,158.6 272.9,174.7 265.5,181.2" fill="#b3b3b3"/><polygon points="265.6,180.0 273.0,173.5 271.8,189.6 264.4,196.3" fill="#b2b2b2"/><polygon points="264.5,195.1 271.8,188.4 270.6,204.5 263.3,211.5" fill="#b2b2b2"/><polygon points="263.4,210.2 270.7,203.3 269.4,219.4 262.2,226.6" fill="#b2b2b2"/><polygon points="262.3,225.4 269.5,218.2 268.3,234.3 261.1,241.7" fill="#b2b2b2"/><polygon points="261.1,240.5 268.3,233.1 267.1,249.2 260.0,256.8" fill="#b2b2b2"/><polygon points="282.9,39.8 290.9,35.5 289.6,51.3 281.7,55.9" fill="#aaaaaa"/><polygon points="281.8,54.8 289.7,50.2 288.4,66.0 280.5,70.9" fill="#aaaaaa"/><polygon points="280.6,69.7 288.5,64.8 287.1,80.7 279.4,85.8" fill="#aaaaaa"/><polygon points="279.4,84.6 287.2,79.5 285.9,95.4 278.2,100.7" fill="#aaaaaa"/><polygon points="278.3,99.5 286.0,94.2 284.7,110.0 277.0,115.6" fill="#aaaaaa"/><polygon points="277.1,114.4 284.8,108.9 283.5,124.7 275.9,130.5" fill="#aaaaaa"/><polygon points="276.0,129.3 283.6,123.5 282.2,139.4 274.7,145.4" fill="#aaaaaa"/><polygon points="274.8,144.2 282.3,138.2 281.0,154.1 273.5,160.3" fill="#a9a9a9"/><polygon points="273.6,159.1 281.1,152.9 279.8,168.7 272.4,175.2" fill="#a9a9a9"/><polygon points="272.5,174.0 279.9,167.6 278.6,183.4 271.2,190.1" fill="#a9a9a9"/><polygon points="271.3,188.9 278.7,182.2 277.4,198.1 270.0,205.0" fill="#a8a8a8"/><polygon points="270.1,203.8 277.5,196.9 276.1,212.8 268.9,219.9" fill="#a8a8a8"/><polygon points="269.0,218.7 276.2,211.6 274.9,227.4 267.7,234.8" fill="#a8a8a8"/><polygon points="267.8,233.6 275.0,226.3 273.7,242.1 266.6,249.7" fill="#a8a8a8"/><polygon points="290.3,35.8 298.3,31.5 296.9,47.1 289.0,51.7" fill="#a0a0a0"/><polygon points="289.1,50.5 297.0,45.9 295.6,61.5 287.8,66.4" fill="#a0a0a0"/><polygon points="287.9,65.2 295.7,60.4 294.3,76.0 286.6,81.1" fill="#a0a0a0"/><polygon points="286.7,79.9 294.4,74.8 293.1,90.4 285.3,95.8" fill="#a1a1a1"/><polygon points="285.4,94.6 293.2,89.3 291.8,104.9 284.1,110.4" fill="#a1a1a1"/><polygon points="284.2,109.3 291.9,103.7 290.5,119.4 282.9,125.1" fill="#a2a2a2"/><polygon points="283.0,124.0 290.6,118.2 289.2,133.8 281.7,139.8" fill="#a2a2a2"/><polygon points="281.8,138.7 289.3,132.7 288.0,148.3 280.5,154.5" fill="#a2a2a2"/><polygon points="280.6,153.3 288.1,147.1 286.7,162.7 279.2,169.2" fill="#a1a1a1"/><polygon points="279.3,168.0 286.8,161.6 285.4,177.2 278.0,183.9" fill="#a0a0a0"/><polygon points="278.1,182.7 285.5,176.0 284.1,191.6 276.8,198.6" fill="#a0a0a0"/><polygon points="276.9,197.4 284.2,190.5 282.8,206.1 275.6,213.3" fill="#9f9f9f"/><polygon points="275.7,212.1 282.9,204.9 281.6,220.6 274.4,228.0" fill="#9f9f9f"/><polygon points="274.5,226.8 281.7,219.4 280.3,235.0 273.2,242.7" fill="#9f9f9f"/><polygon points="297.7,31.8 305.6,27.4 304.2,42.8 296.3,47.4" fill="#989898"/><polygon points="296.4,46.3 304.3,41.7 302.9,57.0 295.0,61.9" fill="#989898"/><polygon points="295.1,60.7 303.0,55.9 301.5,71.3 293.8,76.4" fill="#999999"/><polygon points="293.9,75.2 301.6,70.1 300.2,85.5 292.5,90.8" fill="#999999"/><polygon points="292.6,89.7 300.3,84.4 298.9,99.8 291.2,105.3" fill="#9a9a9a"/><polygon points="291.3,104.2 299.0,98.6 297.5,114.0 289.9,119.8" fill="#9b9b9b"/><polygon points="290.0,118.6 297.7,112.9 296.2,128.2 288.7,134.3" fill="#9b9b9b"/><polygon points="288.8,133.1 296.3,127.1 294.9,142.5 287.4,148.7" fill="#9b9b9b"/><polygon points="287.5,147.6 295.0,141.4 293.6,156.7 286.1,163.2" fill="#9a9a9a"/><polygon points="286.2,162.1 293.7,155.6 292.2,171.0 284.9,177.7" fill="#999999"/><polygon points="285.0,176.5 292.3,169.8 290.9,185.2 283.6,192.2" fill="#999999"/><polygon points="283.7,191.0 291.0,184.1 289.6,199.5 282.3,206.6" fill="#989898"/><polygon points="282.4,205.5 289.7,198.3 288.2,213.7 281.0,221.1" fill="#979797"/><polygon points="281.1,220.0 288.3,212.6 286.9,227.9 279.8,235.6" fill="#979797"/><polygon points="305.0,27.7 313.0,23.4 311.5,38.5 303.6,43.1" fill="#939393"/><polygon points="303.7,42.0 311.6,37.4 310.1,52.6 302.3,57.4" fill="#939393"/><polygon points="302.4,56.3 310.2,51.4 308.7,66.6 301.0,71.7" fill="#949494"/><polygon points="301.1,70.5 308.8,65.5 307.4,80.6 299.6,85.9" fill="#959595"/><polygon points="299.7,84.8 307.5,79.5 306.0,94.6 298.3,100.2" fill="#969696"/><polygon points="298.4,99.0 306.1,93.5 304.6,108.7 297.0,114.4" fill="#979797"/><polygon points="297.1,113.3 304.7,107.5 303.2,122.7 295.7,128.7" fill="#989898"/><polygon points="295.8,127.6 303.3,121.6 301.8,136.7 294.3,143.0" fill="#979797"/><polygon points="294.4,141.8 301.9,135.6 300.4,150.7 293.0,157.2" fill="#969696"/><polygon points="293.1,156.1 300.5,149.6 299.0,164.8 291.7,171.5" fill="#959595"/><polygon points="291.8,170.3 299.2,163.6 297.7,178.8 290.4,185.7" fill="#949494"/><polygon points="290.5,184.6 297.8,177.7 296.3,192.8 289.0,200.0" fill="#939393"/><polygon points="289.1,198.8 296.4,191.7 294.9,206.8 287.7,214.2" fill="#929292"/><polygon points="287.8,213.1 295.0,205.7 293.5,220.9 286.4,228.5" fill="#929292"/><polygon points="312.4,23.7 320.4,19.4 318.8,34.3 310.9,38.9" fill="#8d8d8d"/><polygon points="311.0,37.8 318.9,33.2 317.4,48.1 309.5,52.9" fill="#8d8d8d"/><polygon points="309.7,51.8 317.5,47.0 315.9,61.9 308.2,67.0" fill="#8e8e8e"/><polygon points="308.3,65.8 316.1,60.8 314.5,75.7 306.8,81.0" fill="#909090"/><polygon points="306.9,79.9 314.6,74.6 313.1,89.5 305.4,95.0" fill="#919191"/><polygon points="305.5,93.9 313.2,88.4 311.6,103.3 304.0,109.1" fill="#939393"/><polygon points="304.1,108.0 311.7,102.2 310.2,117.1 302.6,123.1" fill="#949494"/><polygon points="302.8,122.0 310.3,116.0 308.7,130.9 301.3,137.2" fill="#939393"/><polygon points="301.4,136.0 308.9,129.8 307.3,144.7 299.9,151.2" fill="#929292"/><polygon points="300.0,150.1 307.4,143.6 305.9,158.5 298.5,165.3" fill="#919191"/><polygon points="298.6,164.1 306.0,157.4 304.4,172.4 297.1,179.3" fill="#8f8f8f"/><polygon points="297.2,178.2 304.5,171.2 303.0,186.2 295.7,193.3" fill="#8e8e8e"/><polygon points="295.8,192.2 303.1,185.1 301.5,200.0 294.4,207.4" fill="#8d8d8d"/><polygon points="294.5,206.3 301.7,198.9 300.1,213.8 293.0,221.4" fill="#8d8d8d"/><polygon points="319.8,19.7 327.7,15.3 326.1,30.0 318.2,34.6" fill="#888888"/><polygon points="318.3,33.5 326.2,28.9 324.6,43.6 316.8,48.4" fill="#888888"/><polygon points="316.9,47.3 324.8,42.5 323.1,57.2 315.4,62.3" fill="#8a8a8a"/><polygon points="315.5,61.2 323.3,56.1 321.7,70.8 313.9,76.1" fill="#8c8c8c"/><polygon points="314.0,75.0 321.8,69.7 320.2,84.4 312.5,89.9" fill="#8e8e8e"/><polygon points="312.6,88.8 320.3,83.3 318.7,98.0 311.1,103.7" fill="#8f8f8f"/><polygon points="311.2,102.6 318.8,96.9 317.2,111.6 309.6,117.6" fill="#909090"/><polygon points="309.7,116.5 317.3,110.5 315.7,125.1 308.2,131.4" fill="#8f8f8f"/><polygon points="308.3,130.3 315.8,124.1 314.2,138.7 306.8,145.2" fill="#8e8e8e"/><polygon points="306.9,144.1 314.3,137.6 312.7,152.3 305.3,159.0" fill="#8d8d8d"/><polygon points="305.4,157.9 312.8,151.2 311.2,165.9 303.9,172.9" fill="#8b8b8b"/><polygon points="304.0,171.8 311.3,164.8 309.7,179.5 302.5,186.7" fill="#8a8a8a"/><polygon points="302.6,185.6 309.8,178.4 308.2,193.1 301.0,200.5" fill="#888888"/><polygon points="301.1,199.4 308.3,192.0 306.7,206.7 299.6,214.3" fill="#888888"/><polygon points="327.2,15.6 335.1,11.3 333.4,25.7 325.5,30.3" fill="#888888"/><polygon points="325.7,29.3 333.6,24.7 331.9,39.1 324.1,44.0" fill="#888888"/><polygon points="324.2,42.9 332.0,38.0 330.3,52.5 322.6,57.6" fill="#8a8a8a"/><polygon points="322.7,56.5 330.5,51.4 328.8,65.9 321.1,71.2" fill="#8c8c8c"/><polygon points="321.2,70.1 328.9,64.8 327.3,79.2 319.6,84.8" fill="#8e8e8e"/><polygon points="319.7,83.7 327.4,78.2 325.7,92.6 318.1,98.4" fill="#8f8f8f"/><polygon points="318.2,97.3 325.8,91.5 324.2,106.0 316.6,112.0" fill="#909090"/><polygon points="316.7,110.9 324.3,104.9 322.6,119.4 315.1,125.6" fill="#8f8f8f"/><polygon points="315.2,124.5 322.7,118.3 321.1,132.7 313.6,139.2" fill="#8e8e8e"/><polygon points="313.8,138.1 321.2,131.7 319.5,146.1 312.1,152.8" fill="#8d8d8d"/><polygon points="312.3,151.7 319.6,145.0 318.0,159.5 310.7,166.4" fill="#8b8b8b"/><polygon points="310.8,165.3 318.1,158.4 316.4,172.9 309.2,180.0" fill="#8a8a8a"/><polygon points="309.3,179.0 316.5,171.8 314.9,186.2 307.7,193.7" fill="#888888"/><polygon points="307.8,192.6 315.0,185.2 313.3,199.6 306.2,207.3" fill="#888888"/></g></g></g></g><line x1="91.5" y1="53.5" x2="100.4" y2="206.4" stroke="#a8d030" stroke-width="1.8" opacity="0.6"/><circle cx="90.5" cy="53.4" r="0.72" fill="#7fae3a" opacity="0.53"/><circle cx="93.9" cy="52.1" r="0.70" fill="#7fae3a" opacity="0.46"/><circle cx="97.4" cy="51.0" r="0.70" fill="#7fae3a" opacity="0.47"/><circle cx="100.7" cy="49.3" r="0.56" fill="#7fae3a" opacity="0.40"/><circle cx="104.2" cy="48.4" r="0.81" fill="#7fae3a" opacity="0.48"/><circle cx="107.7" cy="47.1" r="0.87" fill="#7fae3a" opacity="0.54"/><circle cx="110.9" cy="45.5" r="0.74" fill="#7fae3a" opacity="0.36"/><circle cx="114.5" cy="44.5" r="0.71" fill="#7fae3a" opacity="0.34"/><circle cx="117.9" cy="43.1" r="0.61" fill="#7fae3a" opacity="0.34"/><circle cx="121.2" cy="41.7" r="0.68" fill="#7fae3a" opacity="0.52"/><circle cx="124.6" cy="40.3" r="0.75" fill="#7fae3a" opacity="0.44"/><circle cx="128.0" cy="38.9" r="0.69" fill="#7fae3a" opacity="0.39"/><circle cx="131.3" cy="37.4" r="0.87" fill="#7fae3a" opacity="0.51"/><circle cx="134.8" cy="36.3" r="0.64" fill="#7fae3a" opacity="0.38"/><circle cx="138.3" cy="35.2" r="0.55" fill="#7fae3a" opacity="0.50"/><circle cx="141.7" cy="33.9" r="0.82" fill="#7fae3a" opacity="0.42"/><circle cx="144.9" cy="32.2" r="0.82" fill="#7fae3a" opacity="0.33"/><circle cx="148.5" cy="31.4" r="0.84" fill="#7fae3a" opacity="0.43"/><circle cx="151.8" cy="29.6" r="0.66" fill="#7fae3a" opacity="0.35"/><circle cx="155.2" cy="28.5" r="0.80" fill="#7fae3a" opacity="0.39"/><circle cx="158.8" cy="27.5" r="0.64" fill="#7fae3a" opacity="0.54"/><circle cx="162.0" cy="25.8" r="0.57" fill="#7fae3a" opacity="0.38"/><circle cx="165.6" cy="24.9" r="0.55" fill="#7fae3a" opacity="0.51"/><circle cx="169.0" cy="23.5" r="0.72" fill="#7fae3a" opacity="0.43"/><circle cx="172.4" cy="22.2" r="0.78" fill="#7fae3a" opacity="0.36"/><circle cx="175.7" cy="20.7" r="0.57" fill="#7fae3a" opacity="0.42"/><circle cx="179.2" cy="19.6" r="0.62" fill="#7fae3a" opacity="0.54"/><circle cx="182.5" cy="18.0" r="0.63" fill="#7fae3a" opacity="0.52"/><circle cx="186.0" cy="17.0" r="0.66" fill="#7fae3a" opacity="0.52"/><circle cx="186.0" cy="16.7" r="0.56" fill="#8fb040" opacity="0.35"/><circle cx="189.6" cy="17.6" r="0.62" fill="#8fb040" opacity="0.32"/><circle cx="193.3" cy="18.2" r="0.63" fill="#8fb040" opacity="0.22"/><circle cx="196.9" cy="19.0" r="0.73" fill="#8fb040" opacity="0.24"/><circle cx="200.6" cy="19.3" r="0.66" fill="#8fb040" opacity="0.27"/><circle cx="204.3" cy="19.7" r="0.69" fill="#8fb040" opacity="0.29"/><circle cx="207.9" cy="20.4" r="0.59" fill="#8fb040" opacity="0.23"/><circle cx="211.5" cy="21.0" r="0.81" fill="#8fb040" opacity="0.24"/><circle cx="215.1" cy="22.1" r="0.78" fill="#8fb040" opacity="0.34"/><circle cx="218.7" cy="22.7" r="0.86" fill="#8fb040" opacity="0.33"/><circle cx="222.4" cy="23.1" r="0.67" fill="#8fb040" opacity="0.22"/><circle cx="226.0" cy="24.1" r="0.86" fill="#8fb040" opacity="0.24"/><circle cx="229.7" cy="24.4" r="0.61" fill="#8fb040" opacity="0.33"/><circle cx="233.3" cy="25.1" r="0.63" fill="#8fb040" opacity="0.23"/><circle cx="236.9" cy="25.6" r="0.55" fill="#8fb040" opacity="0.24"/><circle cx="240.6" cy="26.4" r="0.82" fill="#8fb040" opacity="0.30"/><circle cx="244.2" cy="27.2" r="0.85" fill="#8fb040" opacity="0.24"/><circle cx="247.8" cy="28.0" r="0.62" fill="#8fb040" opacity="0.27"/><circle cx="251.4" cy="28.6" r="0.59" fill="#8fb040" opacity="0.26"/><circle cx="255.1" cy="28.9" r="0.57" fill="#8fb040" opacity="0.26"/><circle cx="258.8" cy="29.4" r="0.87" fill="#8fb040" opacity="0.30"/><circle cx="262.4" cy="30.1" r="0.73" fill="#8fb040" opacity="0.23"/><circle cx="266.0" cy="31.2" r="0.53" fill="#8fb040" opacity="0.34"/><circle cx="269.7" cy="31.4" r="0.86" fill="#8fb040" opacity="0.21"/><circle cx="273.3" cy="32.1" r="0.69" fill="#8fb040" opacity="0.31"/><circle cx="276.9" cy="32.9" r="0.87" fill="#8fb040" opacity="0.22"/><circle cx="280.6" cy="33.4" r="0.78" fill="#8fb040" opacity="0.34"/><circle cx="284.2" cy="34.0" r="0.77" fill="#8fb040" opacity="0.32"/><circle cx="287.9" cy="34.5" r="0.65" fill="#8fb040" opacity="0.31"/><circle cx="291.5" cy="35.1" r="0.83" fill="#8fb040" opacity="0.27"/><circle cx="295.1" cy="35.8" r="0.83" fill="#8fb040" opacity="0.29"/><circle cx="298.7" cy="36.6" r="0.66" fill="#8fb040" opacity="0.29"/><circle cx="302.4" cy="37.2" r="0.55" fill="#8fb040" opacity="0.30"/><circle cx="306.0" cy="37.6" r="0.83" fill="#8fb040" opacity="0.31"/><circle cx="309.6" cy="38.6" r="0.78" fill="#8fb040" opacity="0.29"/><circle cx="313.3" cy="39.3" r="0.82" fill="#8fb040" opacity="0.22"/><circle cx="316.9" cy="39.7" r="0.54" fill="#8fb040" opacity="0.29"/><circle cx="320.5" cy="40.5" r="0.61" fill="#8fb040" opacity="0.31"/><circle cx="99.4" cy="206.8" r="0.95" fill="#7cb520" opacity="0.77"/><circle cx="102.4" cy="208.2" r="0.68" fill="#7cb520" opacity="0.58"/><circle cx="105.6" cy="209.2" r="0.77" fill="#7cb520" opacity="0.53"/><circle cx="108.8" cy="210.4" r="0.97" fill="#7cb520" opacity="0.62"/><circle cx="111.9" cy="211.6" r="0.82" fill="#7cb520" opacity="0.69"/><circle cx="114.8" cy="213.3" r="0.87" fill="#7cb520" opacity="0.74"/><circle cx="118.1" cy="214.2" r="1.07" fill="#7cb520" opacity="0.60"/><circle cx="121.1" cy="215.6" r="0.82" fill="#7cb520" opacity="0.52"/><circle cx="124.2" cy="216.9" r="1.05" fill="#7cb520" opacity="0.75"/><circle cx="127.3" cy="218.1" r="1.10" fill="#7cb520" opacity="0.57"/><circle cx="130.3" cy="219.6" r="0.88" fill="#7cb520" opacity="0.57"/><circle cx="133.4" cy="220.9" r="0.86" fill="#7cb520" opacity="0.68"/><circle cx="136.6" cy="222.0" r="0.82" fill="#7cb520" opacity="0.75"/><circle cx="139.8" cy="223.0" r="0.88" fill="#7cb520" opacity="0.50"/><circle cx="142.6" cy="224.8" r="1.07" fill="#7cb520" opacity="0.49"/><circle cx="145.9" cy="225.7" r="0.93" fill="#7cb520" opacity="0.58"/><circle cx="149.0" cy="226.9" r="0.68" fill="#7cb520" opacity="0.52"/><circle cx="152.0" cy="228.3" r="0.69" fill="#7cb520" opacity="0.75"/><circle cx="155.1" cy="229.7" r="0.74" fill="#7cb520" opacity="0.50"/><circle cx="158.3" cy="230.8" r="0.88" fill="#7cb520" opacity="0.68"/><circle cx="161.4" cy="232.0" r="1.04" fill="#7cb520" opacity="0.79"/><circle cx="164.5" cy="233.3" r="0.76" fill="#7cb520" opacity="0.63"/><circle cx="167.5" cy="234.8" r="0.68" fill="#7cb520" opacity="0.63"/><circle cx="170.7" cy="235.8" r="0.76" fill="#7cb520" opacity="0.57"/><circle cx="173.7" cy="237.3" r="0.99" fill="#e8d000" opacity="0.65"/><circle cx="176.9" cy="238.4" r="1.02" fill="#e8d000" opacity="0.61"/><circle cx="180.0" cy="239.6" r="1.08" fill="#e8d000" opacity="0.51"/><circle cx="183.1" cy="240.8" r="1.00" fill="#e8d000" opacity="0.52"/><circle cx="186.1" cy="242.3" r="0.96" fill="#e8d000" opacity="0.77"/><circle cx="189.2" cy="243.6" r="0.93" fill="#e8d000" opacity="0.76"/><circle cx="192.4" cy="244.6" r="1.10" fill="#e8d000" opacity="0.63"/><circle cx="195.4" cy="246.0" r="0.77" fill="#e8d000" opacity="0.71"/><circle cx="198.6" cy="247.2" r="0.96" fill="#e8d000" opacity="0.71"/><circle cx="201.5" cy="248.8" r="1.08" fill="#e8d000" opacity="0.79"/><circle cx="204.8" cy="249.6" r="0.92" fill="#e8d000" opacity="0.73"/><circle cx="207.8" cy="251.2" r="1.08" fill="#ff8000" opacity="0.75"/><circle cx="210.9" cy="252.5" r="0.71" fill="#ff8000" opacity="0.62"/><circle cx="214.0" cy="253.6" r="1.02" fill="#ff8000" opacity="0.64"/><circle cx="217.0" cy="255.2" r="1.04" fill="#ff8000" opacity="0.50"/><circle cx="220.3" cy="256.0" r="0.75" fill="#ff8000" opacity="0.59"/><circle cx="223.4" cy="257.3" r="0.74" fill="#ff8000" opacity="0.53"/><circle cx="226.4" cy="258.7" r="1.00" fill="#ff8000" opacity="0.75"/><circle cx="229.5" cy="259.9" r="1.10" fill="#ff8000" opacity="0.64"/><circle cx="232.7" cy="261.0" r="0.71" fill="#ff8000" opacity="0.55"/><circle cx="232.9" cy="261.2" r="0.81" fill="#ff7000" opacity="0.71"/><circle cx="235.3" cy="258.7" r="0.91" fill="#ff7000" opacity="0.75"/><circle cx="237.7" cy="256.4" r="0.82" fill="#ff7000" opacity="0.60"/><circle cx="240.0" cy="253.8" r="1.08" fill="#ff7000" opacity="0.55"/><circle cx="242.4" cy="251.4" r="1.11" fill="#ff7000" opacity="0.65"/><circle cx="244.9" cy="249.1" r="0.77" fill="#ff7000" opacity="0.65"/><circle cx="247.3" cy="246.7" r="0.95" fill="#ff7000" opacity="0.49"/><circle cx="249.5" cy="244.1" r="0.91" fill="#ff7000" opacity="0.61"/><circle cx="252.0" cy="241.8" r="0.93" fill="#ff7000" opacity="0.64"/><circle cx="254.5" cy="239.4" r="0.70" fill="#e8d800" opacity="0.65"/><circle cx="257.0" cy="237.1" r="1.11" fill="#e8d800" opacity="0.78"/><circle cx="259.4" cy="234.8" r="0.89" fill="#e8d800" opacity="0.52"/><circle cx="261.8" cy="232.3" r="1.04" fill="#e8d800" opacity="0.77"/><circle cx="264.2" cy="229.8" r="0.82" fill="#e8d800" opacity="0.54"/><circle cx="266.5" cy="227.4" r="1.09" fill="#e8d800" opacity="0.52"/><circle cx="268.8" cy="224.9" r="0.69" fill="#e8d800" opacity="0.54"/><circle cx="271.5" cy="222.7" r="0.98" fill="#e8d800" opacity="0.58"/><circle cx="273.8" cy="220.2" r="0.95" fill="#e8d800" opacity="0.51"/><circle cx="276.1" cy="217.7" r="0.73" fill="#e8d800" opacity="0.64"/><circle cx="278.7" cy="215.5" r="0.76" fill="#e8d800" opacity="0.65"/><circle cx="281.0" cy="213.0" r="0.84" fill="#e8d800" opacity="0.61"/><circle cx="283.4" cy="210.5" r="0.75" fill="#e8d800" opacity="0.55"/><circle cx="285.7" cy="208.1" r="0.96" fill="#e8d800" opacity="0.65"/><circle cx="288.0" cy="205.6" r="0.95" fill="#e8d800" opacity="0.75"/><circle cx="290.7" cy="203.4" r="1.01" fill="#e8d800" opacity="0.74"/><circle cx="292.8" cy="200.7" r="0.82" fill="#e8d800" opacity="0.58"/><circle cx="295.2" cy="198.3" r="0.77" fill="#e8d800" opacity="0.80"/><circle cx="297.6" cy="195.9" r="0.74" fill="#e8d800" opacity="0.56"/><circle cx="300.1" cy="193.5" r="0.79" fill="#e8d800" opacity="0.51"/><circle cx="302.5" cy="191.1" r="0.86" fill="#e8d800" opacity="0.73"/><circle cx="305.2" cy="189.0" r="0.86" fill="#e8d800" opacity="0.70"/><polygon points="443.8,50.8 541.7,12.5 678.8,36.0 661.8,186.6 589.3,260.3 452.0,204.5" fill="#f8f000"/><g clip-path="url(#cp4)"><g transform="rotate(0.00 599.5 87.3)" filter="url(#flt4)"><g transform="rotate(0.00 599.5 87.3)"><g filter="url(#blurG)"><polygon points="404.4,50.8 420.3,54.6 430.2,50.9 414.5,47.1" fill="#878787"/><polygon points="413.7,47.4 429.5,51.1 439.4,47.4 423.8,43.8" fill="#878787"/><polygon points="423.1,44.0 438.6,47.6 448.6,43.9 433.2,40.4" fill="#848484"/><polygon points="432.4,40.7 447.8,44.2 457.7,40.4 442.6,37.0" fill="#818181"/><polygon points="441.8,37.3 457.0,40.7 466.9,36.9 451.9,33.6" fill="#7e7e7e"/><polygon points="451.2,33.9 466.2,37.2 476.1,33.4 461.3,30.3" fill="#7b7b7b"/><polygon points="460.5,30.5 475.4,33.7 485.3,29.9 470.6,26.9" fill="#787878"/><polygon points="469.9,27.2 484.6,30.2 494.5,26.4 480.0,23.5" fill="#787878"/><polygon points="479.2,23.8 493.7,26.7 503.7,22.9 489.3,20.2" fill="#787878"/><polygon points="488.6,20.4 502.9,23.2 512.8,19.4 498.7,16.8" fill="#787878"/><polygon points="497.9,17.1 512.1,19.7 522.0,15.9 508.0,13.4" fill="#787878"/><polygon points="507.3,13.7 521.3,16.2 531.2,12.4 517.4,10.0" fill="#787878"/><polygon points="516.7,10.3 530.5,12.7 540.4,9.0 526.8,6.7" fill="#787878"/><polygon points="526.0,6.9 539.7,9.2 549.6,5.5 536.1,3.3" fill="#787878"/><polygon points="419.1,54.3 435.0,58.2 444.7,54.3 429.0,50.6" fill="#878787"/><polygon points="428.3,50.9 444.0,54.6 453.8,50.7 438.2,47.1" fill="#878787"/><polygon points="437.5,47.4 453.0,51.0 462.8,47.1 447.4,43.6" fill="#848484"/><polygon points="446.7,43.9 462.1,47.4 471.8,43.5 456.6,40.1" fill="#818181"/><polygon points="455.9,40.4 471.1,43.8 480.8,39.9 465.8,36.7" fill="#7e7e7e"/><polygon points="465.1,36.9 480.1,40.2 489.9,36.3 475.0,33.2" fill="#7b7b7b"/><polygon points="474.3,33.4 489.1,36.6 498.9,32.7 484.2,29.7" fill="#787878"/><polygon points="483.5,30.0 498.2,33.0 507.9,29.1 493.4,26.2" fill="#787878"/><polygon points="492.7,26.5 507.2,29.4 516.9,25.5 502.6,22.7" fill="#787878"/><polygon points="501.9,23.0 516.2,25.8 526.0,21.9 511.8,19.2" fill="#787878"/><polygon points="511.1,19.5 525.2,22.2 535.0,18.3 521.0,15.8" fill="#787878"/><polygon points="520.3,16.0 534.3,18.6 544.0,14.7 530.2,12.3" fill="#787878"/><polygon points="529.5,12.5 543.3,15.0 553.0,11.1 539.4,8.8" fill="#787878"/><polygon points="538.6,9.1 552.3,11.4 562.0,7.5 548.6,5.3" fill="#787878"/><polygon points="433.8,57.9 449.7,61.8 459.3,57.8 443.6,54.0" fill="#848484"/><polygon points="442.9,54.3 458.6,58.1 468.2,54.1 452.6,50.4" fill="#848484"/><polygon points="451.9,50.7 467.5,54.3 477.0,50.3 461.7,46.8" fill="#838383"/><polygon points="460.9,47.1 476.3,50.6 485.9,46.6 470.7,43.3" fill="#818181"/><polygon points="470.0,43.5 485.2,46.9 494.7,42.9 479.7,39.7" fill="#7e7e7e"/><polygon points="479.0,39.9 494.0,43.2 503.6,39.2 488.8,36.1" fill="#7b7b7b"/><polygon points="488.0,36.3 502.9,39.5 512.5,35.5 497.8,32.5" fill="#787878"/><polygon points="497.1,32.8 511.8,35.8 521.3,31.8 506.8,28.9" fill="#787878"/><polygon points="506.1,29.2 520.6,32.1 530.2,28.0 515.9,25.3" fill="#787878"/><polygon points="515.1,25.6 529.5,28.3 539.1,24.3 524.9,21.7" fill="#787878"/><polygon points="524.2,22.0 538.3,24.6 547.9,20.6 533.9,18.1" fill="#787878"/><polygon points="533.2,18.4 547.2,20.9 556.8,16.9 543.0,14.5" fill="#787878"/><polygon points="542.3,14.8 556.1,17.2 565.6,13.2 552.0,10.9" fill="#787878"/><polygon points="551.3,11.2 564.9,13.5 574.5,9.5 561.0,7.3" fill="#787878"/><polygon points="448.5,61.5 464.4,65.4 473.8,61.2 458.1,57.5" fill="#818181"/><polygon points="457.4,57.8 473.2,61.5 482.5,57.4 467.0,53.8" fill="#818181"/><polygon points="466.3,54.1 481.9,57.7 491.3,53.6 475.9,50.1" fill="#818181"/><polygon points="475.2,50.4 490.6,53.9 500.0,49.7 484.8,46.4" fill="#7f7f7f"/><polygon points="484.0,46.7 499.3,50.0 508.7,45.9 493.6,42.7" fill="#7c7c7c"/><polygon points="492.9,43.0 508.0,46.2 517.4,42.1 502.5,39.0" fill="#7a7a7a"/><polygon points="501.8,39.3 516.7,42.4 526.1,38.3 511.4,35.2" fill="#787878"/><polygon points="510.7,35.5 525.4,38.6 534.8,34.4 520.3,31.5" fill="#787878"/><polygon points="519.5,31.8 534.1,34.7 543.5,30.6 529.1,27.8" fill="#787878"/><polygon points="528.4,28.1 542.8,30.9 552.2,26.8 538.0,24.1" fill="#787878"/><polygon points="537.3,24.4 551.5,27.1 560.9,22.9 546.9,20.4" fill="#787878"/><polygon points="546.2,20.7 560.2,23.2 569.6,19.1 555.8,16.7" fill="#787878"/><polygon points="555.0,17.0 568.9,19.4 578.3,15.3 564.6,13.0" fill="#787878"/><polygon points="563.9,13.3 577.6,15.6 587.0,11.5 573.5,9.3" fill="#787878"/><polygon points="463.3,65.1 479.2,68.9 488.4,64.7 472.7,60.9" fill="#7e7e7e"/><polygon points="472.0,61.2 487.7,65.0 496.9,60.7 481.4,57.1" fill="#7e7e7e"/><polygon points="480.7,57.4 496.3,61.0 505.5,56.8 490.1,53.3" fill="#7e7e7e"/><polygon points="489.4,53.6 504.8,57.1 514.0,52.9 498.8,49.5" fill="#7c7c7c"/><polygon points="498.1,49.8 513.3,53.2 522.6,48.9 507.5,45.7" fill="#797979"/><polygon points="506.8,46.0 521.9,49.2 531.1,45.0 516.3,41.8" fill="#757575"/><polygon points="515.6,42.2 530.4,45.3 539.6,41.0 525.0,38.0" fill="#747474"/><polygon points="524.3,38.3 539.0,41.3 548.2,37.1 533.7,34.2" fill="#747474"/><polygon points="533.0,34.5 547.5,37.4 556.7,33.2 542.4,30.4" fill="#757575"/><polygon points="541.7,30.7 556.0,33.5 565.3,29.2 551.1,26.6" fill="#777777"/><polygon points="550.4,26.9 564.6,29.5 573.8,25.3 559.8,22.8" fill="#787878"/><polygon points="559.1,23.1 573.1,25.6 582.4,21.3 568.5,18.9" fill="#787878"/><polygon points="567.8,19.2 581.7,21.6 590.9,17.4 577.3,15.1" fill="#787878"/><polygon points="576.6,15.4 590.2,17.7 599.4,13.5 586.0,11.3" fill="#787878"/><polygon points="478.0,68.6 493.9,72.5 502.9,68.1 487.2,64.4" fill="#7b7b7b"/><polygon points="486.5,64.7 502.3,68.5 511.3,64.1 495.8,60.5" fill="#7b7b7b"/><polygon points="495.1,60.8 510.7,64.4 519.7,60.0 504.3,56.5" fill="#7b7b7b"/><polygon points="503.7,56.8 519.0,60.3 528.1,56.0 512.9,52.6" fill="#787878"/><polygon points="512.2,52.9 527.4,56.3 536.5,51.9 521.5,48.7" fill="#747474"/><polygon points="520.8,49.0 535.8,52.2 544.9,47.9 530.0,44.7" fill="#727272"/><polygon points="529.3,45.1 544.2,48.2 553.2,43.8 538.6,40.8" fill="#717171"/><polygon points="537.9,41.1 552.6,44.1 561.6,39.8 547.1,36.9" fill="#717171"/><polygon points="546.4,37.2 560.9,40.1 570.0,35.7 555.7,32.9" fill="#727272"/><polygon points="555.0,33.3 569.3,36.0 578.4,31.7 564.2,29.0" fill="#747474"/><polygon points="563.5,29.3 577.7,32.0 586.8,27.6 572.8,25.1" fill="#777777"/><polygon points="572.1,25.4 586.1,27.9 595.1,23.6 581.3,21.2" fill="#787878"/><polygon points="580.6,21.5 594.5,23.9 603.5,19.5 589.9,17.2" fill="#787878"/><polygon points="589.2,17.5 602.9,19.8 611.9,15.4 598.4,13.3" fill="#787878"/><polygon points="492.7,72.2 508.6,76.1 517.5,71.6 501.8,67.9" fill="#787878"/><polygon points="501.1,68.2 516.8,71.9 525.7,67.4 510.2,63.8" fill="#787878"/><polygon points="509.5,64.1 525.1,67.8 533.9,63.3 518.6,59.8" fill="#787878"/><polygon points="517.9,60.1 533.3,63.6 542.2,59.1 527.0,55.7" fill="#767676"/><polygon points="526.3,56.0 541.5,59.4 550.4,54.9 535.4,51.7" fill="#737373"/><polygon points="534.7,52.0 549.7,55.3 558.6,50.8 543.8,47.6" fill="#707070"/><polygon points="543.1,48.0 557.9,51.1 566.8,46.6 552.1,43.6" fill="#6d6d6d"/><polygon points="551.5,43.9 566.2,46.9 575.0,42.4 560.5,39.5" fill="#6d6d6d"/><polygon points="559.9,39.9 574.4,42.8 583.3,38.3 568.9,35.5" fill="#707070"/><polygon points="568.3,35.8 582.6,38.6 591.5,34.1 577.3,31.5" fill="#737373"/><polygon points="576.7,31.8 590.8,34.4 599.7,29.9 585.7,27.4" fill="#767676"/><polygon points="585.1,27.7 599.0,30.3 607.9,25.8 594.1,23.4" fill="#787878"/><polygon points="593.4,23.7 607.3,26.1 616.1,21.6 602.5,19.3" fill="#787878"/><polygon points="601.8,19.7 615.5,21.9 624.4,17.4 610.9,15.3" fill="#787878"/><polygon points="507.4,75.8 523.3,79.7 532.0,75.0 516.3,71.3" fill="#787878"/><polygon points="515.7,71.6 531.4,75.4 540.1,70.8 524.6,67.1" fill="#787878"/><polygon points="523.9,67.5 539.5,71.1 548.2,66.5 532.8,63.0" fill="#787878"/><polygon points="532.1,63.3 547.5,66.8 556.2,62.2 541.0,58.8" fill="#767676"/><polygon points="540.4,59.2 555.6,62.5 564.3,57.9 549.3,54.7" fill="#737373"/><polygon points="548.6,55.0 563.6,58.3 572.4,53.7 557.5,50.5" fill="#707070"/><polygon points="556.8,50.9 571.7,54.0 580.4,49.4 565.7,46.4" fill="#6d6d6d"/><polygon points="565.1,46.7 579.8,49.7 588.5,45.1 574.0,42.2" fill="#6d6d6d"/><polygon points="573.3,42.5 587.8,45.4 596.5,40.8 582.2,38.1" fill="#707070"/><polygon points="581.5,38.4 595.9,41.2 604.6,36.5 590.4,33.9" fill="#737373"/><polygon points="589.8,34.2 603.9,36.9 612.7,32.3 598.7,29.8" fill="#767676"/><polygon points="598.0,30.1 612.0,32.6 620.7,28.0 606.9,25.6" fill="#787878"/><polygon points="606.2,25.9 620.1,28.3 628.8,23.7 615.1,21.4" fill="#787878"/><polygon points="614.5,21.8 628.1,24.1 636.8,19.4 623.4,17.3" fill="#787878"/><polygon points="522.2,79.4 538.1,83.2 546.6,78.5 530.9,74.8" fill="#787878"/><polygon points="530.2,75.1 546.0,78.8 554.5,74.1 539.0,70.5" fill="#787878"/><polygon points="538.3,70.8 553.9,74.5 562.4,69.7 547.0,66.2" fill="#787878"/><polygon points="546.4,66.6 561.8,70.1 570.3,65.3 555.1,62.0" fill="#777777"/><polygon points="554.5,62.3 569.7,65.7 578.2,60.9 563.2,57.7" fill="#747474"/><polygon points="562.5,58.0 577.6,61.3 586.1,56.5 571.3,53.4" fill="#727272"/><polygon points="570.6,53.8 585.5,56.9 594.0,52.2 579.3,49.2" fill="#717171"/><polygon points="578.7,49.5 593.4,52.5 601.9,47.8 587.4,44.9" fill="#717171"/><polygon points="586.8,45.2 601.3,48.1 609.8,43.4 595.5,40.6" fill="#727272"/><polygon points="594.8,41.0 609.2,43.7 617.7,39.0 603.5,36.4" fill="#747474"/><polygon points="602.9,36.7 617.1,39.3 625.6,34.6 611.6,32.1" fill="#777777"/><polygon points="611.0,32.4 625.0,35.0 633.5,30.2 619.7,27.8" fill="#787878"/><polygon points="619.0,28.2 632.9,30.6 641.4,25.8 627.8,23.5" fill="#787878"/><polygon points="627.1,23.9 640.8,26.2 649.3,21.4 635.8,19.3" fill="#787878"/><polygon points="536.9,82.9 552.8,86.8 561.1,81.9 545.4,78.2" fill="#787878"/><polygon points="544.8,78.6 560.5,82.3 568.9,77.4 553.3,73.8" fill="#787878"/><polygon points="552.7,74.2 568.3,77.8 576.6,72.9 561.3,69.5" fill="#787878"/><polygon points="560.6,69.8 576.0,73.3 584.4,68.4 569.2,65.1" fill="#787878"/><polygon points="568.5,65.4 583.7,68.8 592.1,63.9 577.1,60.7" fill="#777777"/><polygon points="576.5,61.0 591.5,64.3 599.8,59.4 585.0,56.3" fill="#757575"/><polygon points="584.4,56.7 599.2,59.8 607.6,54.9 592.9,51.9" fill="#747474"/><polygon points="592.3,52.3 607.0,55.3 615.3,50.4 600.8,47.6" fill="#747474"/><polygon points="600.2,47.9 614.7,50.8 623.1,45.9 608.7,43.2" fill="#757575"/><polygon points="608.1,43.5 622.4,46.3 630.8,41.4 616.6,38.8" fill="#777777"/><polygon points="616.0,39.1 630.2,41.8 638.5,36.9 624.6,34.4" fill="#797979"/><polygon points="623.9,34.8 637.9,37.3 646.3,32.4 632.5,30.0" fill="#797979"/><polygon points="631.8,30.4 645.7,32.8 654.0,27.9 640.4,25.7" fill="#7a7a7a"/><polygon points="639.8,26.0 653.4,28.3 661.8,23.4 648.3,21.3" fill="#7a7a7a"/><polygon points="551.6,86.5 567.5,90.4 575.7,85.4 560.0,81.7" fill="#787878"/><polygon points="559.4,82.0 575.1,85.8 583.3,80.8 567.7,77.2" fill="#787878"/><polygon points="567.1,77.5 582.7,81.2 590.9,76.2 575.5,72.7" fill="#787878"/><polygon points="574.9,73.0 590.3,76.5 598.4,71.6 583.2,68.2" fill="#787878"/><polygon points="582.6,68.6 597.8,71.9 606.0,66.9 591.0,63.7" fill="#787878"/><polygon points="590.4,64.1 605.4,67.3 613.6,62.3 598.7,59.2" fill="#787878"/><polygon points="598.1,59.6 613.0,62.7 621.2,57.7 606.5,54.7" fill="#787878"/><polygon points="605.9,55.1 620.6,58.1 628.8,53.1 614.3,50.2" fill="#787878"/><polygon points="613.6,50.6 628.1,53.5 636.3,48.5 622.0,45.7" fill="#787878"/><polygon points="621.4,46.1 635.7,48.9 643.9,43.9 629.8,41.2" fill="#797979"/><polygon points="629.1,41.6 643.3,44.3 651.5,39.3 637.5,36.7" fill="#7a7a7a"/><polygon points="636.9,37.1 650.9,39.6 659.1,34.7 645.3,32.3" fill="#7a7a7a"/><polygon points="644.6,32.6 658.5,35.0 666.6,30.0 653.0,27.8" fill="#7b7b7b"/><polygon points="652.4,28.1 666.0,30.4 674.2,25.4 660.8,23.3" fill="#7b7b7b"/><polygon points="566.3,90.1 582.2,94.0 590.2,88.9 574.5,85.1" fill="#787878"/><polygon points="573.9,85.5 589.7,89.2 597.7,84.1 582.1,80.5" fill="#787878"/><polygon points="581.5,80.9 597.1,84.5 605.1,79.4 589.7,75.9" fill="#787878"/><polygon points="589.1,76.3 604.5,79.8 612.5,74.7 597.3,71.3" fill="#787878"/><polygon points="596.7,71.7 611.9,75.1 619.9,70.0 604.9,66.7" fill="#787878"/><polygon points="604.3,67.1 619.3,70.3 627.3,65.2 612.5,62.1" fill="#787878"/><polygon points="611.9,62.5 626.7,65.6 634.8,60.5 620.1,57.5" fill="#787878"/><polygon points="619.5,57.9 634.2,60.9 642.2,55.8 627.7,52.9" fill="#787878"/><polygon points="627.1,53.3 641.6,56.2 649.6,51.1 635.3,48.3" fill="#787878"/><polygon points="634.7,48.7 649.0,51.4 657.0,46.3 642.9,43.7" fill="#797979"/><polygon points="642.3,44.1 656.4,46.7 664.4,41.6 650.5,39.1" fill="#7a7a7a"/><polygon points="649.8,39.5 663.8,42.0 671.9,36.9 658.0,34.5" fill="#7b7b7b"/><polygon points="657.4,34.8 671.3,37.3 679.3,32.2 665.6,29.9" fill="#7c7c7c"/><polygon points="665.0,30.2 678.7,32.5 686.7,27.4 673.2,25.3" fill="#7c7c7c"/><polygon points="581.1,93.7 597.0,97.5 604.8,92.3 589.1,88.6" fill="#787878"/><polygon points="588.5,89.0 604.2,92.7 612.1,87.5 596.5,83.9" fill="#787878"/><polygon points="595.9,84.2 611.5,87.9 619.3,82.6 603.9,79.1" fill="#787878"/><polygon points="603.4,79.5 618.7,83.0 626.6,77.8 611.4,74.4" fill="#787878"/><polygon points="610.8,74.8 626.0,78.2 633.8,73.0 618.8,69.7" fill="#787878"/><polygon points="618.2,70.1 633.3,73.3 641.1,68.1 626.2,65.0" fill="#787878"/><polygon points="625.6,65.4 640.5,68.5 648.3,63.3 633.7,60.3" fill="#787878"/><polygon points="633.1,60.7 647.8,63.7 655.6,58.4 641.1,55.6" fill="#787878"/><polygon points="640.5,55.9 655.0,58.8 662.9,53.6 648.5,50.8" fill="#787878"/><polygon points="647.9,51.2 662.3,54.0 670.1,48.8 656.0,46.1" fill="#7a7a7a"/><polygon points="655.4,46.5 669.5,49.2 677.4,43.9 663.4,41.4" fill="#7b7b7b"/><polygon points="662.8,41.8 676.8,44.3 684.6,39.1 670.8,36.7" fill="#7c7c7c"/><polygon points="670.2,37.1 684.1,39.5 691.9,34.3 678.3,32.0" fill="#7d7d7d"/><polygon points="677.7,32.4 691.3,34.6 699.2,29.4 685.7,27.3" fill="#7d7d7d"/><polygon points="595.8,97.2 611.7,101.1 619.3,95.8 603.6,92.0" fill="#787878"/><polygon points="603.1,92.4 618.8,96.2 626.4,90.8 610.9,87.2" fill="#787878"/><polygon points="610.3,87.6 625.9,91.2 633.5,85.9 618.2,82.4" fill="#787878"/><polygon points="617.6,82.8 633.0,86.3 640.6,80.9 625.4,77.5" fill="#787878"/><polygon points="624.9,77.9 640.1,81.3 647.7,76.0 632.7,72.7" fill="#787878"/><polygon points="632.1,73.1 647.2,76.4 654.8,71.0 640.0,67.9" fill="#787878"/><polygon points="639.4,68.3 654.3,71.4 661.9,66.1 647.3,63.1" fill="#787878"/><polygon points="646.7,63.4 661.4,66.5 669.0,61.1 654.5,58.2" fill="#787878"/><polygon points="654.0,58.6 668.5,61.5 676.1,56.2 661.8,53.4" fill="#787878"/><polygon points="661.2,53.8 675.6,56.6 683.2,51.2 669.1,48.6" fill="#7a7a7a"/><polygon points="668.5,49.0 682.7,51.6 690.3,46.3 676.3,43.7" fill="#7b7b7b"/><polygon points="675.8,44.1 689.8,46.7 697.4,41.3 683.6,38.9" fill="#7c7c7c"/><polygon points="683.0,39.3 696.9,41.7 704.5,36.4 690.9,34.1" fill="#7d7d7d"/><polygon points="690.3,34.5 704.0,36.8 711.6,31.4 698.2,29.3" fill="#7d7d7d"/></g></g></g></g><g clip-path="url(#cp5)"><g transform="rotate(13.19 599.5 87.3)" filter="url(#flt5)"><g transform="rotate(-13.19 599.5 87.3)"><g filter="url(#blurG)"><polygon points="418.2,22.0 434.1,25.4 435.0,40.7 419.3,37.1" fill="#757575"/><polygon points="419.2,36.0 434.9,39.6 435.8,54.9 420.3,51.1" fill="#757575"/><polygon points="420.2,50.0 435.8,53.7 436.7,69.0 421.3,65.1" fill="#757575"/><polygon points="421.2,64.0 436.6,67.9 437.5,83.2 422.3,79.1" fill="#777777"/><polygon points="422.3,78.0 437.5,82.1 438.4,97.4 423.4,93.1" fill="#7a7a7a"/><polygon points="423.3,92.0 438.3,96.3 439.3,111.6 424.4,107.1" fill="#777777"/><polygon points="424.3,106.0 439.2,110.4 440.1,125.8 425.4,121.1" fill="#757575"/><polygon points="425.3,120.0 440.0,124.6 441.0,139.9 426.4,135.1" fill="#757575"/><polygon points="426.4,134.0 440.9,138.8 441.8,154.1 427.5,149.1" fill="#737373"/><polygon points="427.4,148.0 441.7,153.0 442.7,168.3 428.5,163.1" fill="#727272"/><polygon points="428.4,162.0 442.6,167.1 443.5,182.5 429.5,177.1" fill="#707070"/><polygon points="429.4,176.0 443.4,181.3 444.4,196.6 430.5,191.1" fill="#6f6f6f"/><polygon points="430.5,190.0 444.3,195.5 445.2,210.8 431.6,205.1" fill="#6d6d6d"/><polygon points="431.5,204.0 445.2,209.7 446.1,225.0 432.6,219.1" fill="#6d6d6d"/><polygon points="432.9,25.1 448.8,28.5 449.5,44.0 433.8,40.4" fill="#757575"/><polygon points="433.8,39.3 449.5,42.8 450.2,58.3 434.7,54.6" fill="#757575"/><polygon points="434.6,53.5 450.2,57.2 450.9,72.7 435.6,68.8" fill="#757575"/><polygon points="435.5,67.6 450.9,71.5 451.6,87.0 436.4,82.9" fill="#777777"/><polygon points="436.4,81.8 451.6,85.9 452.3,101.4 437.3,97.1" fill="#7a7a7a"/><polygon points="437.2,95.9 452.3,100.2 453.0,115.7 438.2,111.2" fill="#777777"/><polygon points="438.1,110.1 453.0,114.6 453.7,130.0 439.0,125.4" fill="#757575"/><polygon points="438.9,124.3 453.6,128.9 454.4,144.4 439.9,139.6" fill="#757575"/><polygon points="439.8,138.4 454.3,143.2 455.1,158.7 440.7,153.7" fill="#737373"/><polygon points="440.7,152.6 455.0,157.6 455.8,173.1 441.6,167.9" fill="#727272"/><polygon points="441.5,166.8 455.7,171.9 456.5,187.4 442.5,182.1" fill="#707070"/><polygon points="442.4,180.9 456.4,186.3 457.2,201.8 443.3,196.2" fill="#6f6f6f"/><polygon points="443.3,195.1 457.1,200.6 457.9,216.1 444.2,210.4" fill="#6d6d6d"/><polygon points="444.1,209.3 457.8,215.0 458.6,230.4 445.1,224.5" fill="#6d6d6d"/><polygon points="447.6,28.2 463.5,31.6 464.1,47.3 448.4,43.7" fill="#757575"/><polygon points="448.3,42.6 464.0,46.1 464.6,61.8 449.1,58.1" fill="#757575"/><polygon points="449.0,56.9 464.6,60.6 465.2,76.3 449.8,72.4" fill="#757575"/><polygon points="449.7,71.2 465.1,75.1 465.7,90.8 450.5,86.7" fill="#777777"/><polygon points="450.4,85.6 465.7,89.6 466.2,105.3 451.2,101.0" fill="#7a7a7a"/><polygon points="451.1,99.9 466.2,104.2 466.8,119.8 451.9,115.4" fill="#777777"/><polygon points="451.9,114.2 466.7,118.7 467.3,134.3 452.6,129.7" fill="#757575"/><polygon points="452.6,128.6 467.3,133.2 467.8,148.8 453.3,144.0" fill="#757575"/><polygon points="453.3,142.9 467.8,147.7 468.4,163.4 454.0,158.4" fill="#737373"/><polygon points="454.0,157.2 468.3,162.2 468.9,177.9 454.7,172.7" fill="#727272"/><polygon points="454.7,171.5 468.9,176.7 469.4,192.4 455.4,187.0" fill="#707070"/><polygon points="455.4,185.9 469.4,191.2 470.0,206.9 456.2,201.3" fill="#6f6f6f"/><polygon points="456.1,200.2 469.9,205.7 470.5,221.4 456.9,215.7" fill="#6d6d6d"/><polygon points="456.8,214.5 470.5,220.2 471.0,235.9 457.6,230.0" fill="#6d6d6d"/><polygon points="462.3,31.4 478.2,34.7 478.6,50.6 462.9,47.0" fill="#757575"/><polygon points="462.9,45.9 478.6,49.4 479.0,65.2 463.5,61.5" fill="#757575"/><polygon points="463.4,60.4 479.0,64.1 479.4,79.9 464.0,76.0" fill="#757575"/><polygon points="464.0,74.8 479.4,78.8 479.8,94.6 464.6,90.5" fill="#777777"/><polygon points="464.5,89.3 479.7,93.4 480.1,109.3 465.1,105.0" fill="#7a7a7a"/><polygon points="465.1,103.8 480.1,108.1 480.5,124.0 465.7,119.5" fill="#777777"/><polygon points="465.6,118.3 480.5,122.8 480.9,138.6 466.2,134.0" fill="#757575"/><polygon points="466.2,132.8 480.9,137.5 481.3,153.3 466.8,148.5" fill="#757575"/><polygon points="466.7,147.3 481.2,152.1 481.7,168.0 467.3,163.0" fill="#737373"/><polygon points="467.3,161.8 481.6,166.8 482.0,182.7 467.9,177.5" fill="#727272"/><polygon points="467.8,176.3 482.0,181.5 482.4,197.3 468.4,192.0" fill="#707070"/><polygon points="468.4,190.8 482.4,196.2 482.8,212.0 469.0,206.5" fill="#6f6f6f"/><polygon points="468.9,205.3 482.8,210.8 483.2,226.7 469.5,221.0" fill="#6d6d6d"/><polygon points="469.5,219.8 483.1,225.5 483.5,241.4 470.1,235.5" fill="#6d6d6d"/><polygon points="477.1,34.5 493.0,37.8 493.2,53.9 477.5,50.3" fill="#757575"/><polygon points="477.4,49.1 493.2,52.7 493.4,68.7 477.9,65.0" fill="#757575"/><polygon points="477.8,63.8 493.4,67.5 493.6,83.6 478.3,79.6" fill="#757575"/><polygon points="478.2,78.5 493.6,82.4 493.8,98.4 478.6,94.3" fill="#777777"/><polygon points="478.6,93.1 493.8,97.2 494.1,113.2 479.0,109.0" fill="#7a7a7a"/><polygon points="479.0,107.8 494.0,112.0 494.3,128.1 479.4,123.6" fill="#777777"/><polygon points="479.4,122.4 494.3,126.9 494.5,142.9 479.8,138.3" fill="#757575"/><polygon points="479.8,137.1 494.5,141.7 494.7,157.8 480.2,152.9" fill="#757575"/><polygon points="480.2,151.8 494.7,156.6 494.9,172.6 480.6,167.6" fill="#737373"/><polygon points="480.6,166.4 494.9,171.4 495.2,187.4 481.0,182.3" fill="#727272"/><polygon points="480.9,181.1 495.1,186.3 495.4,202.3 481.4,196.9" fill="#707070"/><polygon points="481.3,195.8 495.4,201.1 495.6,217.1 481.8,211.6" fill="#6f6f6f"/><polygon points="481.7,210.4 495.6,215.9 495.8,232.0 482.1,226.3" fill="#6d6d6d"/><polygon points="482.1,225.1 495.8,230.8 496.0,246.8 482.5,240.9" fill="#6d6d6d"/><polygon points="491.8,37.6 507.7,41.0 507.7,57.2 492.0,53.6" fill="#757575"/><polygon points="492.0,52.4 507.7,56.0 507.8,72.2 492.3,68.4" fill="#757575"/><polygon points="492.2,67.2 507.8,71.0 507.9,87.2 492.5,83.3" fill="#757575"/><polygon points="492.5,82.1 507.9,86.0 507.9,102.2 492.7,98.1" fill="#777777"/><polygon points="492.7,96.9 507.9,101.0 508.0,117.2 492.9,112.9" fill="#7a7a7a"/><polygon points="492.9,111.7 508.0,116.0 508.0,132.2 493.2,127.7" fill="#777777"/><polygon points="493.2,126.6 508.0,131.0 508.1,147.2 493.4,142.6" fill="#757575"/><polygon points="493.4,141.4 508.1,146.0 508.2,162.2 493.6,157.4" fill="#757575"/><polygon points="493.6,156.2 508.1,161.0 508.2,177.2 493.9,172.2" fill="#737373"/><polygon points="493.9,171.0 508.2,176.0 508.3,192.2 494.1,187.1" fill="#727272"/><polygon points="494.1,185.9 508.3,191.0 508.3,207.2 494.3,201.9" fill="#707070"/><polygon points="494.3,200.7 508.3,206.0 508.4,222.3 494.6,216.7" fill="#6f6f6f"/><polygon points="494.5,215.5 508.4,221.1 508.4,237.3 494.8,231.5" fill="#6d6d6d"/><polygon points="494.8,230.4 508.4,236.1 508.5,252.3 495.0,246.4" fill="#6d6d6d"/><polygon points="506.5,40.7 522.4,44.1 522.3,60.5 506.6,56.9" fill="#757575"/><polygon points="506.6,55.7 522.3,59.2 522.2,75.6 506.6,71.9" fill="#757575"/><polygon points="506.6,70.7 522.2,74.4 522.1,90.8 506.7,86.9" fill="#757575"/><polygon points="506.7,85.7 522.1,89.6 522.0,106.0 506.8,101.9" fill="#777777"/><polygon points="506.8,100.7 522.0,104.8 521.9,121.2 506.9,116.9" fill="#7a7a7a"/><polygon points="506.9,115.7 521.9,119.9 521.8,136.3 506.9,131.9" fill="#777777"/><polygon points="506.9,130.7 521.8,135.1 521.7,151.5 507.0,146.9" fill="#757575"/><polygon points="507.0,145.7 521.7,150.3 521.6,166.7 507.1,161.9" fill="#757575"/><polygon points="507.1,160.7 521.6,165.5 521.5,181.9 507.1,176.9" fill="#737373"/><polygon points="507.1,175.7 521.5,180.6 521.4,197.0 507.2,191.9" fill="#727272"/><polygon points="507.2,190.7 521.4,195.8 521.3,212.2 507.3,206.8" fill="#707070"/><polygon points="507.3,205.6 521.3,211.0 521.2,227.4 507.4,221.8" fill="#6f6f6f"/><polygon points="507.4,220.6 521.2,226.2 521.1,242.6 507.4,236.8" fill="#6d6d6d"/><polygon points="507.4,235.6 521.1,241.3 521.0,257.7 507.5,251.8" fill="#6d6d6d"/><polygon points="521.2,43.8 537.1,47.2 536.8,63.7 521.1,60.2" fill="#757575"/><polygon points="521.1,59.0 536.9,62.5 536.6,79.1 521.0,75.4" fill="#757575"/><polygon points="521.0,74.1 536.6,77.9 536.3,94.4 520.9,90.5" fill="#757575"/><polygon points="521.0,89.3 536.3,93.2 536.1,109.8 520.9,105.7" fill="#777777"/><polygon points="520.9,104.5 536.1,108.5 535.8,125.1 520.8,120.8" fill="#7a7a7a"/><polygon points="520.8,119.6 535.8,123.9 535.5,140.5 520.7,136.0" fill="#777777"/><polygon points="520.7,134.8 535.6,139.2 535.3,155.8 520.6,151.2" fill="#757575"/><polygon points="520.6,149.9 535.3,154.6 535.0,171.1 520.5,166.3" fill="#757575"/><polygon points="520.5,165.1 535.1,169.9 534.8,186.5 520.4,181.5" fill="#737373"/><polygon points="520.4,180.3 534.8,185.3 534.5,201.8 520.3,196.6" fill="#727272"/><polygon points="520.3,195.4 534.5,200.6 534.3,217.2 520.3,211.8" fill="#707070"/><polygon points="520.3,210.6 534.3,215.9 534.0,232.5 520.2,227.0" fill="#6f6f6f"/><polygon points="520.2,225.8 534.0,231.3 533.7,247.8 520.1,242.1" fill="#6d6d6d"/><polygon points="520.1,240.9 533.8,246.6 533.5,263.2 520.0,257.3" fill="#6d6d6d"/><polygon points="535.9,46.9 551.8,50.3 551.4,67.0 535.7,63.5" fill="#757575"/><polygon points="535.7,62.3 551.4,65.8 551.0,82.5 535.4,78.8" fill="#757575"/><polygon points="535.4,77.6 551.0,81.3 550.6,98.1 535.2,94.1" fill="#757575"/><polygon points="535.2,92.9 550.6,96.8 550.1,113.6 534.9,109.5" fill="#777777"/><polygon points="535.0,108.2 550.2,112.3 549.7,129.1 534.7,124.8" fill="#7a7a7a"/><polygon points="534.7,123.6 549.8,127.8 549.3,144.6 534.4,140.1" fill="#777777"/><polygon points="534.5,138.9 549.3,143.3 548.9,160.1 534.2,155.5" fill="#757575"/><polygon points="534.2,154.2 548.9,158.8 548.5,175.6 534.0,170.8" fill="#757575"/><polygon points="534.0,169.6 548.5,174.4 548.1,191.1 533.7,186.1" fill="#737373"/><polygon points="533.7,184.9 548.1,189.9 547.6,206.6 533.5,201.4" fill="#727272"/><polygon points="533.5,200.2 547.7,205.4 547.2,222.1 533.2,216.8" fill="#707070"/><polygon points="533.2,215.5 547.3,220.9 546.8,237.6 533.0,232.1" fill="#6f6f6f"/><polygon points="533.0,230.9 546.8,236.4 546.4,253.1 532.7,247.4" fill="#6d6d6d"/><polygon points="532.7,246.2 546.4,251.9 546.0,268.6 532.5,262.7" fill="#6d6d6d"/><polygon points="550.7,50.0 566.6,53.4 565.9,70.3 550.2,66.8" fill="#757575"/><polygon points="550.3,65.5 566.0,69.1 565.4,86.0 549.8,82.3" fill="#757575"/><polygon points="549.8,81.0 565.4,84.8 564.8,101.7 549.4,97.8" fill="#757575"/><polygon points="549.4,96.5 564.8,100.4 564.2,117.4 549.0,113.3" fill="#777777"/><polygon points="549.0,112.0 564.3,116.1 563.6,133.0 548.6,128.8" fill="#7a7a7a"/><polygon points="548.6,127.5 563.7,131.8 563.1,148.7 548.2,144.2" fill="#777777"/><polygon points="548.2,143.0 563.1,147.5 562.5,164.4 547.8,159.7" fill="#757575"/><polygon points="547.8,158.5 562.5,163.1 561.9,180.1 547.4,175.2" fill="#757575"/><polygon points="547.4,174.0 562.0,178.8 561.3,195.7 547.0,190.7" fill="#737373"/><polygon points="547.0,189.5 561.4,194.5 560.8,211.4 546.6,206.2" fill="#727272"/><polygon points="546.6,205.0 560.8,210.1 560.2,227.1 546.2,221.7" fill="#707070"/><polygon points="546.2,220.5 560.2,225.8 559.6,242.8 545.8,237.2" fill="#6f6f6f"/><polygon points="545.8,236.0 559.7,241.5 559.0,258.4 545.4,252.7" fill="#6d6d6d"/><polygon points="545.4,251.5 559.1,257.2 558.5,274.1 545.0,268.2" fill="#6d6d6d"/><polygon points="565.4,53.2 581.3,56.5 580.5,73.6 564.8,70.1" fill="#757575"/><polygon points="564.8,68.8 580.5,72.4 579.7,89.5 564.2,85.7" fill="#757575"/><polygon points="564.3,84.5 579.8,88.2 579.0,105.3 563.6,101.4" fill="#757575"/><polygon points="563.7,100.1 579.1,104.0 578.3,121.1 563.1,117.1" fill="#777777"/><polygon points="563.1,115.8 578.3,119.9 577.5,137.0 562.5,132.7" fill="#7a7a7a"/><polygon points="562.6,131.5 577.6,135.7 576.8,152.8 562.0,148.4" fill="#777777"/><polygon points="562.0,147.1 576.9,151.6 576.1,168.7 561.4,164.0" fill="#757575"/><polygon points="561.4,162.8 576.1,167.4 575.3,184.5 560.8,179.7" fill="#757575"/><polygon points="560.9,178.4 575.4,183.2 574.6,200.4 560.3,195.4" fill="#737373"/><polygon points="560.3,194.1 574.7,199.1 573.9,216.2 559.7,211.0" fill="#727272"/><polygon points="559.8,209.8 573.9,214.9 573.1,232.0 559.1,226.7" fill="#707070"/><polygon points="559.2,225.4 573.2,230.8 572.4,247.9 558.6,242.3" fill="#6f6f6f"/><polygon points="558.6,241.1 572.5,246.6 571.7,263.7 558.0,258.0" fill="#6d6d6d"/><polygon points="558.1,256.7 571.7,262.4 570.9,279.6 557.5,273.7" fill="#6d6d6d"/><polygon points="580.1,56.3 596.0,59.6 595.0,76.9 579.3,73.4" fill="#757575"/><polygon points="579.4,72.1 595.1,75.6 594.1,92.9 578.6,89.2" fill="#757575"/><polygon points="578.7,87.9 594.2,91.6 593.2,108.9 577.9,105.0" fill="#757575"/><polygon points="577.9,103.8 593.3,107.7 592.4,124.9 577.2,120.8" fill="#777777"/><polygon points="577.2,119.6 592.4,123.7 591.5,140.9 576.4,136.7" fill="#7a7a7a"/><polygon points="576.5,135.4 591.5,139.7 590.6,157.0 575.7,152.5" fill="#777777"/><polygon points="575.8,151.2 590.6,155.7 589.7,173.0 575.0,168.3" fill="#757575"/><polygon points="575.0,167.1 589.7,171.7 588.8,189.0 574.3,184.2" fill="#757575"/><polygon points="574.3,182.9 588.9,187.7 587.9,205.0 573.5,200.0" fill="#737373"/><polygon points="573.6,198.7 588.0,203.7 587.0,221.0 572.8,215.8" fill="#727272"/><polygon points="572.9,214.5 587.1,219.7 586.1,237.0 572.1,231.6" fill="#707070"/><polygon points="572.2,230.4 586.2,235.7 585.2,253.0 571.4,247.5" fill="#6f6f6f"/><polygon points="571.4,246.2 585.3,251.7 584.3,269.0 570.7,263.3" fill="#6d6d6d"/><polygon points="570.7,262.0 584.4,267.7 583.4,285.0 569.9,279.1" fill="#6d6d6d"/><polygon points="594.8,59.4 610.7,62.7 609.6,80.2 593.9,76.7" fill="#757575"/><polygon points="593.9,75.4 609.7,78.9 608.5,96.4 593.0,92.7" fill="#757575"/><polygon points="593.1,91.4 608.6,95.1 607.5,112.6 592.1,108.6" fill="#757575"/><polygon points="592.2,107.4 607.6,111.3 606.4,128.7 591.2,124.6" fill="#777777"/><polygon points="591.3,123.4 606.5,127.4 605.4,144.9 590.3,140.6" fill="#7a7a7a"/><polygon points="590.4,139.4 605.5,143.6 604.3,161.1 589.5,156.6" fill="#777777"/><polygon points="589.5,155.3 604.4,159.8 603.3,177.3 588.6,172.6" fill="#757575"/><polygon points="588.7,171.3 603.4,176.0 602.2,193.4 587.7,188.6" fill="#757575"/><polygon points="587.8,187.3 602.3,192.1 601.2,209.6 586.8,204.6" fill="#737373"/><polygon points="586.9,203.3 601.3,208.3 600.1,225.8 585.9,220.6" fill="#727272"/><polygon points="586.0,219.3 600.2,224.5 599.1,241.9 585.1,236.6" fill="#707070"/><polygon points="585.1,235.3 599.2,240.7 598.0,258.1 584.2,252.6" fill="#6f6f6f"/><polygon points="584.3,251.3 598.1,256.8 597.0,274.3 583.3,268.6" fill="#6d6d6d"/><polygon points="583.4,267.3 597.1,273.0 595.9,290.5 582.4,284.6" fill="#6d6d6d"/><polygon points="609.5,62.5 625.4,65.9 624.1,83.5 608.4,80.0" fill="#757575"/><polygon points="608.5,78.7 624.2,82.2 622.9,99.8 607.4,96.1" fill="#757575"/><polygon points="607.5,94.8 623.0,98.5 621.7,116.2 606.3,112.3" fill="#757575"/><polygon points="606.4,111.0 621.8,114.9 620.5,132.5 605.3,128.4" fill="#777777"/><polygon points="605.4,127.1 620.6,131.2 619.3,148.9 604.3,144.6" fill="#7a7a7a"/><polygon points="604.3,143.3 619.4,147.6 618.1,165.2 603.2,160.8" fill="#777777"/><polygon points="603.3,159.5 618.2,163.9 616.9,181.5 602.2,176.9" fill="#757575"/><polygon points="602.3,175.6 617.0,180.2 615.7,197.9 601.1,193.1" fill="#757575"/><polygon points="601.2,191.8 615.8,196.6 614.5,214.2 600.1,209.2" fill="#737373"/><polygon points="600.2,207.9 614.5,212.9 613.2,230.6 599.1,225.4" fill="#727272"/><polygon points="599.2,224.1 613.3,229.3 612.0,246.9 598.0,241.6" fill="#707070"/><polygon points="598.1,240.3 612.1,245.6 610.8,263.2 597.0,257.7" fill="#6f6f6f"/><polygon points="597.1,256.4 610.9,261.9 609.6,279.6 596.0,273.9" fill="#6d6d6d"/><polygon points="596.0,272.6 609.7,278.3 608.4,295.9 594.9,290.0" fill="#6d6d6d"/></g><g filter="url(#blurL)"><polygon points="441.0,73.1 461.9,78.5 462.1,83.1 441.3,77.6" fill="#909090" opacity="0.75"/><polygon points="529.5,96.0 554.7,102.5 554.6,107.7 529.5,101.1" fill="#909090" opacity="0.75"/><polygon points="442.8,85.8 499.3,101.1 499.4,109.4 443.3,93.7" fill="#a8a8a8" opacity="0.75"/><polygon points="500.6,101.9 556.0,116.9 555.8,123.5 500.6,108.2" fill="#a8a8a8" opacity="0.75"/><polygon points="559.2,117.8 588.0,125.6 587.6,133.5 559.0,125.5" fill="#a8a8a8" opacity="0.75"/><polygon points="590.4,125.8 661.4,145.1 660.5,154.3 589.9,134.6" fill="#a8a8a8" opacity="0.75"/><polygon points="445.0,96.4 485.9,108.0 486.0,113.5 445.3,101.8" fill="#949494" opacity="0.75"/><polygon points="496.0,111.6 515.6,117.1 515.6,122.7 496.1,117.1" fill="#949494" opacity="0.75"/><polygon points="522.8,119.8 558.8,130.0 558.6,135.6 522.7,125.2" fill="#949494" opacity="0.75"/><polygon points="564.7,130.3 590.5,137.5 590.1,143.6 564.5,136.2" fill="#949494" opacity="0.75"/><polygon points="599.7,141.6 630.0,150.2 629.5,155.7 599.4,147.1" fill="#949494" opacity="0.75"/><polygon points="442.8,106.4 492.8,121.0 492.9,126.8 443.1,111.9" fill="#989898" opacity="0.75"/><polygon points="495.8,121.9 533.5,133.0 533.4,140.4 495.9,129.2" fill="#989898" opacity="0.75"/><polygon points="446.2,120.5 499.3,136.8 499.4,142.3 446.5,125.8" fill="#949494" opacity="0.75"/><polygon points="502.8,136.4 537.2,146.9 537.0,154.2 502.8,143.5" fill="#949494" opacity="0.75"/><polygon points="542.1,148.3 560.1,153.8 559.9,160.8 541.9,155.2" fill="#949494" opacity="0.75"/><polygon points="565.3,157.2 593.8,166.0 593.5,172.3 565.0,163.3" fill="#949494" opacity="0.75"/><polygon points="597.6,165.4 617.5,171.5 617.0,178.5 597.1,172.3" fill="#949494" opacity="0.75"/><polygon points="441.5,131.6 474.9,142.3 475.0,147.1 441.8,136.3" fill="#909090" opacity="0.75"/><polygon points="482.4,144.3 525.6,158.2 525.5,164.1 482.6,150.0" fill="#909090" opacity="0.75"/><polygon points="529.9,158.9 560.5,168.8 560.3,174.2 529.9,164.3" fill="#909090" opacity="0.75"/><polygon points="572.2,171.8 617.4,186.3 616.9,192.0 571.9,177.3" fill="#909090" opacity="0.75"/><polygon points="505.7,160.6 570.5,182.1 570.1,189.6 505.7,167.8" fill="#a0a0a0" opacity="0.75"/><polygon points="577.1,183.5 631.0,201.3 630.4,207.9 576.8,189.8" fill="#a0a0a0" opacity="0.75"/><polygon points="454.9,152.9 502.6,169.2 502.7,175.7 455.2,159.1" fill="#909090" opacity="0.75"/><polygon points="511.3,172.3 555.3,187.3 555.1,193.8 511.3,178.5" fill="#909090" opacity="0.75"/><polygon points="456.4,162.7 511.9,182.3 511.9,189.6 456.7,169.7" fill="#989898" opacity="0.75"/><polygon points="514.3,184.1 570.1,203.8 569.9,209.6 514.3,189.6" fill="#989898" opacity="0.75"/><polygon points="577.0,207.7 617.3,222.0 616.8,228.1 576.7,213.6" fill="#989898" opacity="0.75"/><polygon points="567.5,214.2 605.9,228.2 605.4,235.2 567.2,220.9" fill="#909090" opacity="0.75"/><polygon points="451.1,180.4 468.8,187.1 469.1,192.9 451.4,186.1" fill="#949494" opacity="0.75"/><polygon points="478.7,190.1 517.3,204.6 517.3,211.4 478.9,196.7" fill="#949494" opacity="0.75"/><polygon points="550.6,217.1 570.5,224.6 570.1,231.7 550.4,224.1" fill="#949494" opacity="0.75"/><polygon points="574.8,228.1 600.0,237.6 599.6,243.1 574.6,233.5" fill="#949494" opacity="0.75"/></g></g></g></g><g clip-path="url(#cp6)"><g transform="rotate(-32.90 599.5 87.3)" filter="url(#flt6)"><g transform="rotate(32.90 599.5 87.3)"><g filter="url(#blurG)"><polygon points="588.7,68.1 596.8,63.3 595.8,80.7 587.8,85.8" fill="#747474"/><polygon points="587.9,84.4 595.9,79.4 594.9,96.9 586.9,102.1" fill="#747474"/><polygon points="587.0,100.8 594.9,95.6 594.0,113.1 586.1,118.5" fill="#747474"/><polygon points="586.2,117.2 594.0,111.8 593.0,129.3 585.2,134.9" fill="#767676"/><polygon points="585.3,133.6 593.1,128.0 592.1,145.4 584.4,151.3" fill="#797979"/><polygon points="584.5,150.0 592.2,144.1 591.2,161.6 583.5,167.7" fill="#767676"/><polygon points="583.6,166.4 591.3,160.3 590.3,177.8 582.7,184.1" fill="#747474"/><polygon points="582.8,182.8 590.4,176.5 589.4,194.0 581.8,200.4" fill="#747474"/><polygon points="581.9,199.1 589.5,192.7 588.5,210.1 581.0,216.8" fill="#737373"/><polygon points="581.1,215.5 588.6,208.8 587.6,226.3 580.1,233.2" fill="#717171"/><polygon points="580.2,231.9 587.6,225.0 586.7,242.5 579.3,249.6" fill="#707070"/><polygon points="579.4,248.3 586.7,241.2 585.7,258.7 578.4,266.0" fill="#6f6f6f"/><polygon points="578.5,264.7 585.8,257.4 584.8,274.8 577.6,282.4" fill="#6e6e6e"/><polygon points="577.7,281.1 584.9,273.5 583.9,291.0 576.7,298.8" fill="#6e6e6e"/><polygon points="596.2,63.6 604.2,58.8 603.2,76.1 595.2,81.1" fill="#747474"/><polygon points="595.3,79.8 603.3,74.8 602.2,92.1 594.3,97.3" fill="#747474"/><polygon points="594.4,96.0 602.3,90.8 601.2,108.0 593.4,113.5" fill="#747474"/><polygon points="593.5,112.2 601.3,106.8 600.3,124.0 592.5,129.7" fill="#767676"/><polygon points="592.5,128.4 600.3,122.7 599.3,140.0 591.6,145.9" fill="#797979"/><polygon points="591.6,144.6 599.4,138.7 598.3,156.0 590.7,162.1" fill="#767676"/><polygon points="590.7,160.8 598.4,154.7 597.4,172.0 589.7,178.3" fill="#747474"/><polygon points="589.8,177.0 597.4,170.7 596.4,188.0 588.8,194.4" fill="#747474"/><polygon points="588.9,193.1 596.5,186.7 595.4,203.9 587.9,210.6" fill="#737373"/><polygon points="588.0,209.3 595.5,202.7 594.4,219.9 587.0,226.8" fill="#717171"/><polygon points="587.1,225.5 594.5,218.6 593.5,235.9 586.1,243.0" fill="#707070"/><polygon points="586.2,241.7 593.5,234.6 592.5,251.9 585.2,259.2" fill="#6f6f6f"/><polygon points="585.3,257.9 592.6,250.6 591.5,267.9 584.3,275.4" fill="#6e6e6e"/><polygon points="584.4,274.1 591.6,266.6 590.5,283.9 583.4,291.6" fill="#6e6e6e"/><polygon points="603.6,59.2 611.7,54.4 610.6,71.4 602.6,76.5" fill="#747474"/><polygon points="602.7,75.2 610.7,70.2 609.6,87.2 601.6,92.5" fill="#747474"/><polygon points="601.7,91.2 609.6,86.0 608.5,103.0 600.7,108.4" fill="#747474"/><polygon points="600.7,107.2 608.6,101.7 607.5,118.8 599.7,124.4" fill="#767676"/><polygon points="599.8,123.2 607.6,117.5 606.5,134.6 598.7,140.4" fill="#797979"/><polygon points="598.8,139.2 606.5,133.3 605.4,150.4 597.8,156.4" fill="#767676"/><polygon points="597.8,155.2 605.5,149.1 604.4,166.2 596.8,172.4" fill="#747474"/><polygon points="596.9,171.2 604.5,164.9 603.4,182.0 595.8,188.4" fill="#747474"/><polygon points="595.9,187.2 603.5,180.7 602.3,197.7 594.9,204.4" fill="#737373"/><polygon points="594.9,203.2 602.4,196.5 601.3,213.5 593.9,220.4" fill="#717171"/><polygon points="594.0,219.2 601.4,212.3 600.3,229.3 592.9,236.4" fill="#707070"/><polygon points="593.0,235.2 600.4,228.1 599.2,245.1 592.0,252.4" fill="#6f6f6f"/><polygon points="592.0,251.1 599.3,243.8 598.2,260.9 591.0,268.4" fill="#6e6e6e"/><polygon points="591.1,267.1 598.3,259.6 597.2,276.7 590.0,284.4" fill="#6e6e6e"/><polygon points="611.1,54.7 619.2,49.9 618.0,66.8 610.0,71.8" fill="#747474"/><polygon points="610.1,70.5 618.1,65.5 616.9,82.4 609.0,87.6" fill="#747474"/><polygon points="609.0,86.3 617.0,81.1 615.8,98.0 607.9,103.4" fill="#747474"/><polygon points="608.0,102.1 615.9,96.7 614.7,113.6 606.9,119.2" fill="#767676"/><polygon points="607.0,118.0 614.8,112.3 613.6,129.2 605.9,135.0" fill="#797979"/><polygon points="606.0,133.8 613.7,127.9 612.5,144.8 604.9,150.8" fill="#767676"/><polygon points="604.9,149.6 612.6,143.5 611.4,160.4 603.8,166.6" fill="#747474"/><polygon points="603.9,165.4 611.5,159.1 610.4,175.9 602.8,182.4" fill="#747474"/><polygon points="602.9,181.2 610.4,174.7 609.3,191.5 601.8,198.2" fill="#737373"/><polygon points="601.9,197.0 609.4,190.3 608.2,207.1 600.8,214.0" fill="#717171"/><polygon points="600.8,212.8 608.3,205.9 607.1,222.7 599.7,229.8" fill="#707070"/><polygon points="599.8,228.6 607.2,221.5 606.0,238.3 598.7,245.7" fill="#6f6f6f"/><polygon points="598.8,244.4 606.1,237.1 604.9,253.9 597.7,261.5" fill="#6e6e6e"/><polygon points="597.8,260.2 605.0,252.7 603.8,269.5 596.7,277.3" fill="#6e6e6e"/><polygon points="618.6,50.3 626.6,45.5 625.4,62.1 617.4,67.1" fill="#747474"/><polygon points="617.5,65.9 625.5,60.9 624.2,77.5 616.3,82.8" fill="#747474"/><polygon points="616.4,81.5 624.3,76.3 623.1,92.9 615.2,98.4" fill="#747474"/><polygon points="615.3,97.1 623.2,91.7 621.9,108.3 614.1,114.0" fill="#767676"/><polygon points="614.2,112.7 622.0,107.1 620.8,123.7 613.1,129.6" fill="#797979"/><polygon points="613.1,128.3 620.9,122.5 619.6,139.1 612.0,145.2" fill="#767676"/><polygon points="612.1,144.0 619.7,137.9 618.5,154.5 610.9,160.8" fill="#747474"/><polygon points="611.0,159.6 618.6,153.3 617.3,169.9 609.8,176.4" fill="#747474"/><polygon points="609.9,175.2 617.4,168.7 616.2,185.3 608.7,192.0" fill="#737373"/><polygon points="608.8,190.8 616.3,184.1 615.0,200.7 607.6,207.7" fill="#717171"/><polygon points="607.7,206.4 615.1,199.5 613.9,216.2 606.5,223.3" fill="#707070"/><polygon points="606.6,222.0 614.0,214.9 612.8,231.6 605.5,238.9" fill="#6f6f6f"/><polygon points="605.5,237.6 612.8,230.3 611.6,247.0 604.4,254.5" fill="#6e6e6e"/><polygon points="604.5,253.2 611.7,245.7 610.5,262.4 603.3,270.1" fill="#6e6e6e"/><polygon points="626.0,45.8 634.1,41.0 632.8,57.5 624.8,62.5" fill="#747474"/><polygon points="624.9,61.3 632.9,56.3 631.6,72.7 623.6,77.9" fill="#747474"/><polygon points="623.7,76.7 631.7,71.5 630.4,87.9 622.5,93.3" fill="#747474"/><polygon points="622.6,92.1 630.5,86.7 629.2,103.1 621.4,108.8" fill="#767676"/><polygon points="621.4,107.5 629.3,101.9 627.9,118.3 620.2,124.2" fill="#797979"/><polygon points="620.3,122.9 628.0,117.1 626.7,133.5 619.1,139.6" fill="#767676"/><polygon points="619.2,138.4 626.8,132.3 625.5,148.7 617.9,155.0" fill="#747474"/><polygon points="618.0,153.8 625.6,147.5 624.3,163.9 616.8,170.4" fill="#747474"/><polygon points="616.9,169.2 624.4,162.7 623.1,179.1 615.6,185.8" fill="#737373"/><polygon points="615.7,184.6 623.2,177.9 621.9,194.4 614.5,201.3" fill="#717171"/><polygon points="614.6,200.0 622.0,193.1 620.7,209.6 613.4,216.7" fill="#707070"/><polygon points="613.4,215.4 620.8,208.4 619.5,224.8 612.2,232.1" fill="#6f6f6f"/><polygon points="612.3,230.9 619.6,223.6 618.3,240.0 611.1,247.5" fill="#6e6e6e"/><polygon points="611.2,246.3 618.4,238.8 617.1,255.2 609.9,262.9" fill="#6e6e6e"/><polygon points="633.5,41.4 641.5,36.6 640.2,52.8 632.2,57.8" fill="#747474"/><polygon points="632.3,56.6 640.3,51.6 638.9,67.8 631.0,73.1" fill="#747474"/><polygon points="631.1,71.9 639.0,66.6 637.6,82.9 629.8,88.3" fill="#747474"/><polygon points="629.9,87.1 637.7,81.7 636.4,97.9 628.6,103.5" fill="#767676"/><polygon points="628.7,102.3 636.5,96.7 635.1,112.9 627.4,118.7" fill="#797979"/><polygon points="627.5,117.5 635.2,111.7 633.8,127.9 626.2,134.0" fill="#767676"/><polygon points="626.3,132.8 633.9,126.7 632.6,142.9 625.0,149.2" fill="#747474"/><polygon points="625.1,148.0 632.7,141.7 631.3,157.9 623.8,164.4" fill="#747474"/><polygon points="623.9,163.2 631.4,156.7 630.1,173.0 622.6,179.6" fill="#737373"/><polygon points="622.7,178.4 630.2,171.8 628.8,188.0 621.4,194.9" fill="#717171"/><polygon points="621.5,193.7 628.9,186.8 627.5,203.0 620.2,210.1" fill="#707070"/><polygon points="620.3,208.9 627.6,201.8 626.3,218.0 619.0,225.3" fill="#6f6f6f"/><polygon points="619.1,224.1 626.4,216.8 625.0,233.0 617.8,240.5" fill="#6e6e6e"/><polygon points="617.9,239.3 625.1,231.8 623.7,248.0 616.6,255.8" fill="#6e6e6e"/><polygon points="640.9,37.0 649.0,32.2 647.6,48.2 639.6,53.2" fill="#747474"/><polygon points="639.7,52.0 647.7,47.0 646.2,63.0 638.3,68.2" fill="#747474"/><polygon points="638.4,67.0 646.4,61.8 644.9,77.8 637.1,83.3" fill="#747474"/><polygon points="637.2,82.1 645.0,76.6 643.6,92.6 635.8,98.3" fill="#767676"/><polygon points="635.9,97.1 643.7,91.5 642.3,107.5 634.5,113.3" fill="#797979"/><polygon points="634.6,112.1 642.4,106.3 641.0,122.3 633.3,128.4" fill="#767676"/><polygon points="633.4,127.1 641.1,121.1 639.6,137.1 632.0,143.4" fill="#747474"/><polygon points="632.1,142.2 639.7,135.9 638.3,151.9 630.8,158.4" fill="#747474"/><polygon points="630.9,157.2 638.4,150.7 637.0,166.8 629.5,173.4" fill="#737373"/><polygon points="629.6,172.2 637.1,165.6 635.7,181.6 628.2,188.5" fill="#717171"/><polygon points="628.3,187.3 635.8,180.4 634.3,196.4 627.0,203.5" fill="#707070"/><polygon points="627.1,202.3 634.4,195.2 633.0,211.2 625.7,218.5" fill="#6f6f6f"/><polygon points="625.8,217.3 633.1,210.0 631.7,226.0 624.5,233.6" fill="#6e6e6e"/><polygon points="624.6,232.4 631.8,224.9 630.4,240.9 623.2,248.6" fill="#6e6e6e"/><polygon points="648.4,32.5 656.5,27.7 655.0,43.5 647.0,48.5" fill="#747474"/><polygon points="647.1,47.4 655.1,42.3 653.6,58.1 645.7,63.4" fill="#747474"/><polygon points="645.8,62.2 653.7,57.0 652.2,72.8 644.3,78.2" fill="#747474"/><polygon points="644.4,77.0 652.3,71.6 650.8,87.4 643.0,93.1" fill="#767676"/><polygon points="643.1,91.9 650.9,86.2 649.4,102.0 641.7,107.9" fill="#797979"/><polygon points="641.8,106.7 649.5,100.9 648.1,116.7 640.4,122.7" fill="#767676"/><polygon points="640.5,121.5 648.2,115.5 646.7,131.3 639.1,137.6" fill="#747474"/><polygon points="639.2,136.4 646.8,130.1 645.3,145.9 637.7,152.4" fill="#747474"/><polygon points="637.8,151.2 645.4,144.8 643.9,160.6 636.4,167.2" fill="#737373"/><polygon points="636.5,166.1 644.0,159.4 642.5,175.2 635.1,182.1" fill="#717171"/><polygon points="635.2,180.9 642.6,174.0 641.1,189.8 633.8,196.9" fill="#707070"/><polygon points="633.9,195.7 641.3,188.6 639.8,204.4 632.5,211.8" fill="#6f6f6f"/><polygon points="632.6,210.6 639.9,203.3 638.4,219.1 631.1,226.6" fill="#6e6e6e"/><polygon points="631.3,225.4 638.5,217.9 637.0,233.7 629.8,241.4" fill="#6e6e6e"/><polygon points="655.9,28.1 663.9,23.3 662.4,38.9 654.4,43.9" fill="#747474"/><polygon points="654.5,42.7 662.5,37.7 660.9,53.3 653.0,58.5" fill="#747474"/><polygon points="653.1,57.4 661.0,52.1 659.5,67.7 651.6,73.2" fill="#747474"/><polygon points="651.7,72.0 659.6,66.6 658.0,82.2 650.2,87.8" fill="#767676"/><polygon points="650.4,86.7 658.2,81.0 656.6,96.6 648.9,102.5" fill="#797979"/><polygon points="649.0,101.3 656.7,95.5 655.2,111.0 647.5,117.1" fill="#767676"/><polygon points="647.6,115.9 655.3,109.9 653.7,125.5 646.1,131.8" fill="#747474"/><polygon points="646.2,130.6 653.8,124.3 652.3,139.9 644.7,146.4" fill="#747474"/><polygon points="644.8,145.2 652.4,138.8 650.8,154.4 643.4,161.1" fill="#737373"/><polygon points="643.5,159.9 651.0,153.2 649.4,168.8 642.0,175.7" fill="#717171"/><polygon points="642.1,174.5 649.5,167.6 648.0,183.2 640.6,190.3" fill="#707070"/><polygon points="640.7,189.2 648.1,182.1 646.5,197.7 639.2,205.0" fill="#6f6f6f"/><polygon points="639.3,203.8 646.6,196.5 645.1,212.1 637.8,219.6" fill="#6e6e6e"/><polygon points="638.0,218.5 645.2,211.0 643.6,226.5 636.5,234.3" fill="#6e6e6e"/><polygon points="663.3,23.6 671.4,18.8 669.8,34.2 661.8,39.2" fill="#747474"/><polygon points="661.9,38.1 669.9,33.1 668.3,48.5 660.3,53.7" fill="#747474"/><polygon points="660.5,52.5 668.4,47.3 666.8,62.7 658.9,68.1" fill="#747474"/><polygon points="659.0,67.0 666.9,61.6 665.3,76.9 657.5,82.6" fill="#767676"/><polygon points="657.6,81.4 665.4,75.8 663.8,91.2 656.0,97.0" fill="#797979"/><polygon points="656.1,95.9 663.9,90.0 662.3,105.4 654.6,111.5" fill="#767676"/><polygon points="654.7,110.3 662.4,104.3 660.8,119.7 653.2,125.9" fill="#747474"/><polygon points="653.3,124.8 660.9,118.5 659.3,133.9 651.7,140.4" fill="#747474"/><polygon points="651.8,139.2 659.4,132.8 657.8,148.2 650.3,154.9" fill="#737373"/><polygon points="650.4,153.7 657.9,147.0 656.3,162.4 648.8,169.3" fill="#717171"/><polygon points="649.0,168.2 656.4,161.3 654.8,176.6 647.4,183.8" fill="#707070"/><polygon points="647.5,182.6 654.9,175.5 653.3,190.9 646.0,198.2" fill="#6f6f6f"/><polygon points="646.1,197.1 653.4,189.8 651.8,205.1 644.5,212.7" fill="#6e6e6e"/><polygon points="644.7,211.5 651.9,204.0 650.3,219.4 643.1,227.1" fill="#6e6e6e"/><polygon points="670.8,19.2 678.8,14.4 677.2,29.6 669.2,34.6" fill="#747474"/><polygon points="669.3,33.4 677.3,28.4 675.6,43.6 667.7,48.8" fill="#747474"/><polygon points="667.8,47.7 675.7,42.5 674.0,57.7 666.2,63.1" fill="#747474"/><polygon points="666.3,62.0 674.2,56.5 672.5,71.7 664.7,77.4" fill="#767676"/><polygon points="664.8,76.2 672.6,70.6 670.9,85.8 663.2,91.6" fill="#797979"/><polygon points="663.3,90.5 671.1,84.6 669.4,99.8 661.7,105.9" fill="#767676"/><polygon points="661.8,104.7 669.5,98.7 667.8,113.9 660.2,120.1" fill="#747474"/><polygon points="660.3,119.0 667.9,112.7 666.3,127.9 658.7,134.4" fill="#747474"/><polygon points="658.8,133.3 666.4,126.8 664.7,142.0 657.2,148.7" fill="#737373"/><polygon points="657.3,147.5 664.8,140.8 663.1,156.0 655.7,162.9" fill="#717171"/><polygon points="655.8,161.8 663.3,154.9 661.6,170.1 654.2,177.2" fill="#707070"/><polygon points="654.3,176.0 661.7,168.9 660.0,184.1 652.7,191.4" fill="#6f6f6f"/><polygon points="652.8,190.3 660.1,183.0 658.5,198.2 651.2,205.7" fill="#6e6e6e"/><polygon points="651.3,204.6 658.6,197.0 656.9,212.2 649.7,220.0" fill="#6e6e6e"/><polygon points="678.2,14.7 686.3,9.9 684.6,24.9 676.6,29.9" fill="#747474"/><polygon points="676.7,28.8 684.7,23.8 682.9,38.8 675.0,44.0" fill="#747474"/><polygon points="675.1,42.9 683.1,37.7 681.3,52.6 673.5,58.1" fill="#747474"/><polygon points="673.6,56.9 681.5,51.5 679.7,66.5 671.9,72.1" fill="#767676"/><polygon points="672.0,71.0 679.8,65.4 678.1,80.3 670.4,86.2" fill="#797979"/><polygon points="670.5,85.1 678.2,79.2 676.5,94.2 668.8,100.3" fill="#767676"/><polygon points="668.9,99.1 676.6,93.1 674.9,108.1 667.2,114.3" fill="#747474"/><polygon points="667.4,113.2 675.0,106.9 673.2,121.9 665.7,128.4" fill="#747474"/><polygon points="665.8,127.3 673.4,120.8 671.6,135.8 664.1,142.5" fill="#737373"/><polygon points="664.3,141.3 671.7,134.7 670.0,149.6 662.6,156.5" fill="#717171"/><polygon points="662.7,155.4 670.1,148.5 668.4,163.5 661.0,170.6" fill="#707070"/><polygon points="661.2,169.5 668.5,162.4 666.8,177.3 659.5,184.7" fill="#6f6f6f"/><polygon points="659.6,183.5 666.9,176.2 665.2,191.2 657.9,198.7" fill="#6e6e6e"/><polygon points="658.0,197.6 665.3,190.1 663.5,205.1 656.4,212.8" fill="#6e6e6e"/><polygon points="685.7,10.3 693.8,5.5 692.0,20.3 684.0,25.3" fill="#747474"/><polygon points="684.1,24.2 692.1,19.2 690.3,33.9 682.4,39.1" fill="#747474"/><polygon points="682.5,38.0 690.4,32.8 688.6,47.6 680.7,53.0" fill="#747474"/><polygon points="680.9,51.9 688.7,46.5 686.9,61.2 679.1,66.9" fill="#767676"/><polygon points="679.3,65.8 687.1,60.2 685.3,74.9 677.5,80.8" fill="#797979"/><polygon points="677.6,79.7 685.4,73.8 683.6,88.6 675.9,94.6" fill="#767676"/><polygon points="676.0,93.5 683.7,87.5 681.9,102.2 674.3,108.5" fill="#747474"/><polygon points="674.4,107.4 682.0,101.1 680.2,115.9 672.7,122.4" fill="#747474"/><polygon points="672.8,121.3 680.4,114.8 678.5,129.6 671.1,136.3" fill="#737373"/><polygon points="671.2,135.2 678.7,128.5 676.9,143.2 669.5,150.1" fill="#717171"/><polygon points="669.6,149.0 677.0,142.1 675.2,156.9 667.8,164.0" fill="#707070"/><polygon points="668.0,162.9 675.3,155.8 673.5,170.6 666.2,177.9" fill="#6f6f6f"/><polygon points="666.4,176.8 673.7,169.5 671.8,184.2 664.6,191.8" fill="#6e6e6e"/><polygon points="664.7,190.6 672.0,183.1 670.2,197.9 663.0,205.6" fill="#6e6e6e"/></g><g filter="url(#blurL)"><polygon points="598.9,112.4 624.2,94.7 623.7,101.6 598.5,119.5" fill="#909090" opacity="0.75"/><polygon points="659.5,71.5 683.1,54.9 682.5,59.6 659.0,76.4" fill="#909090" opacity="0.75"/><polygon points="597.1,127.9 618.4,112.4 617.9,120.5 596.6,136.4" fill="#a8a8a8" opacity="0.75"/><polygon points="618.9,111.4 639.6,96.3 638.9,104.2 618.3,119.5" fill="#a8a8a8" opacity="0.75"/><polygon points="641.2,96.2 655.6,85.7 655.0,92.3 640.6,103.0" fill="#a8a8a8" opacity="0.75"/><polygon points="658.1,83.3 696.6,55.3 695.7,62.1 657.4,90.6" fill="#a8a8a8" opacity="0.75"/><polygon points="650.9,99.0 668.9,85.5 668.3,90.9 650.4,104.6" fill="#949494" opacity="0.75"/><polygon points="673.4,80.8 685.3,71.9 684.5,78.1 672.7,87.1" fill="#949494" opacity="0.75"/><polygon points="598.8,148.6 616.4,134.9 615.9,141.8 598.4,155.6" fill="#989898" opacity="0.75"/><polygon points="637.3,119.4 660.8,101.1 660.3,106.0 636.9,124.4" fill="#989898" opacity="0.75"/><polygon points="597.2,163.6 624.9,141.3 624.4,147.5 596.8,170.1" fill="#949494" opacity="0.75"/><polygon points="662.1,111.3 673.5,102.1 672.8,108.2 661.4,117.6" fill="#949494" opacity="0.75"/><polygon points="637.9,142.3 652.0,130.6 651.4,136.5 637.4,148.3" fill="#909090" opacity="0.75"/><polygon points="658.7,124.9 683.3,104.3 682.6,110.3 658.0,131.2" fill="#909090" opacity="0.75"/><polygon points="592.8,189.6 604.0,180.0 603.5,187.7 592.4,197.4" fill="#a0a0a0" opacity="0.75"/><polygon points="628.8,159.0 643.3,146.7 642.5,154.6 628.1,167.2" fill="#a0a0a0" opacity="0.75"/><polygon points="647.2,142.9 672.0,121.7 671.3,127.4 646.6,148.8" fill="#a0a0a0" opacity="0.75"/><polygon points="621.9,175.5 634.6,164.4 634.1,169.4 621.5,180.7" fill="#909090" opacity="0.75"/><polygon points="639.9,159.6 660.4,141.5 659.9,146.4 639.5,164.7" fill="#909090" opacity="0.75"/><polygon points="664.5,136.6 675.6,126.8 675.1,131.7 663.9,141.7" fill="#909090" opacity="0.75"/><polygon points="588.9,215.3 618.5,188.5 617.9,195.4 588.4,222.6" fill="#989898" opacity="0.75"/><polygon points="650.2,159.4 674.2,137.6 673.5,143.9 649.5,166.0" fill="#989898" opacity="0.75"/><polygon points="606.1,209.9 615.5,201.1 615.1,206.5 605.7,215.4" fill="#909090" opacity="0.75"/><polygon points="641.7,174.8 656.8,160.8 656.2,167.2 641.1,181.4" fill="#909090" opacity="0.75"/><polygon points="657.7,160.2 682.9,136.8 682.2,142.8 657.1,166.5" fill="#909090" opacity="0.75"/><polygon points="588.9,235.5 608.1,217.2 607.7,222.7 588.6,241.2" fill="#949494" opacity="0.75"/><polygon points="613.1,211.8 640.7,185.6 640.0,192.5 612.6,219.1" fill="#949494" opacity="0.75"/></g></g></g></g><circle cx="443.8" cy="50.9" r="0.60" fill="#9cc040" opacity="0.39"/><circle cx="447.0" cy="49.1" r="0.86" fill="#9cc040" opacity="0.29"/><circle cx="450.5" cy="48.0" r="0.79" fill="#9cc040" opacity="0.36"/><circle cx="453.8" cy="46.5" r="0.59" fill="#9cc040" opacity="0.28"/><circle cx="457.3" cy="45.6" r="0.54" fill="#9cc040" opacity="0.37"/><circle cx="460.6" cy="44.0" r="0.72" fill="#9cc040" opacity="0.30"/><circle cx="464.1" cy="42.9" r="0.60" fill="#9cc040" opacity="0.42"/><circle cx="467.3" cy="41.1" r="0.85" fill="#9cc040" opacity="0.29"/><circle cx="470.8" cy="40.3" r="0.86" fill="#9cc040" opacity="0.35"/><circle cx="474.1" cy="38.6" r="0.64" fill="#9cc040" opacity="0.35"/><circle cx="477.5" cy="37.4" r="0.68" fill="#9cc040" opacity="0.38"/><circle cx="481.0" cy="36.4" r="0.77" fill="#9cc040" opacity="0.42"/><circle cx="484.3" cy="34.9" r="0.68" fill="#9cc040" opacity="0.40"/><circle cx="487.6" cy="33.5" r="0.59" fill="#9cc040" opacity="0.30"/><circle cx="491.0" cy="32.1" r="0.53" fill="#9cc040" opacity="0.43"/><circle cx="494.3" cy="30.6" r="0.77" fill="#9cc040" opacity="0.42"/><circle cx="497.7" cy="29.4" r="0.67" fill="#9cc040" opacity="0.38"/><circle cx="501.1" cy="28.2" r="0.87" fill="#9cc040" opacity="0.41"/><circle cx="504.5" cy="27.0" r="0.84" fill="#9cc040" opacity="0.40"/><circle cx="507.8" cy="25.4" r="0.81" fill="#9cc040" opacity="0.34"/><circle cx="511.2" cy="24.0" r="0.83" fill="#9cc040" opacity="0.40"/><circle cx="514.6" cy="22.7" r="0.79" fill="#9cc040" opacity="0.34"/><circle cx="517.9" cy="21.4" r="0.55" fill="#9cc040" opacity="0.33"/><circle cx="521.4" cy="20.3" r="0.53" fill="#9cc040" opacity="0.33"/><circle cx="524.7" cy="18.8" r="0.74" fill="#9cc040" opacity="0.31"/><circle cx="528.0" cy="17.3" r="0.76" fill="#9cc040" opacity="0.33"/><circle cx="531.5" cy="16.2" r="0.72" fill="#9cc040" opacity="0.37"/><circle cx="534.9" cy="15.0" r="0.87" fill="#9cc040" opacity="0.39"/><circle cx="538.2" cy="13.5" r="0.79" fill="#9cc040" opacity="0.45"/><circle cx="541.7" cy="12.6" r="0.74" fill="#9cc040" opacity="0.40"/><circle cx="541.7" cy="12.4" r="0.67" fill="#9cc040" opacity="0.28"/><circle cx="545.3" cy="13.1" r="0.66" fill="#9cc040" opacity="0.29"/><circle cx="548.9" cy="13.7" r="0.84" fill="#9cc040" opacity="0.37"/><circle cx="552.6" cy="14.2" r="0.86" fill="#9cc040" opacity="0.37"/><circle cx="556.2" cy="14.5" r="0.75" fill="#9cc040" opacity="0.42"/><circle cx="559.7" cy="15.6" r="0.73" fill="#9cc040" opacity="0.41"/><circle cx="563.3" cy="16.3" r="0.85" fill="#9cc040" opacity="0.30"/><circle cx="567.0" cy="16.6" r="0.58" fill="#9cc040" opacity="0.36"/><circle cx="570.6" cy="17.2" r="0.55" fill="#9cc040" opacity="0.44"/><circle cx="574.2" cy="17.9" r="0.71" fill="#9cc040" opacity="0.38"/><circle cx="577.8" cy="18.6" r="0.63" fill="#9cc040" opacity="0.39"/><circle cx="581.4" cy="19.1" r="0.62" fill="#9cc040" opacity="0.40"/><circle cx="585.0" cy="19.8" r="0.53" fill="#9cc040" opacity="0.31"/><circle cx="588.6" cy="20.6" r="0.58" fill="#9cc040" opacity="0.41"/><circle cx="592.2" cy="21.0" r="0.84" fill="#9cc040" opacity="0.40"/><circle cx="595.8" cy="21.8" r="0.87" fill="#9cc040" opacity="0.44"/><circle cx="599.4" cy="22.4" r="0.84" fill="#9cc040" opacity="0.35"/><circle cx="603.1" cy="22.8" r="0.87" fill="#9cc040" opacity="0.31"/><circle cx="606.7" cy="23.4" r="0.85" fill="#9cc040" opacity="0.40"/><circle cx="610.3" cy="24.1" r="0.87" fill="#9cc040" opacity="0.42"/><circle cx="613.9" cy="24.6" r="0.57" fill="#9cc040" opacity="0.38"/><circle cx="617.5" cy="25.3" r="0.60" fill="#9cc040" opacity="0.28"/><circle cx="621.1" cy="25.9" r="0.57" fill="#9cc040" opacity="0.35"/><circle cx="624.7" cy="26.4" r="0.68" fill="#9cc040" opacity="0.32"/><circle cx="628.3" cy="27.1" r="0.67" fill="#9cc040" opacity="0.41"/><circle cx="631.9" cy="27.7" r="0.87" fill="#9cc040" opacity="0.44"/><circle cx="635.6" cy="28.2" r="0.61" fill="#9cc040" opacity="0.29"/><circle cx="639.2" cy="28.8" r="0.80" fill="#9cc040" opacity="0.38"/><circle cx="642.7" cy="29.7" r="0.62" fill="#9cc040" opacity="0.39"/><circle cx="646.4" cy="30.2" r="0.73" fill="#9cc040" opacity="0.38"/><circle cx="650.0" cy="30.7" r="0.59" fill="#9cc040" opacity="0.31"/><circle cx="653.6" cy="31.2" r="0.85" fill="#9cc040" opacity="0.43"/><circle cx="657.1" cy="32.4" r="0.55" fill="#9cc040" opacity="0.32"/><circle cx="660.8" cy="32.8" r="0.74" fill="#9cc040" opacity="0.29"/><circle cx="664.4" cy="33.3" r="0.55" fill="#9cc040" opacity="0.29"/><circle cx="668.0" cy="33.8" r="0.72" fill="#9cc040" opacity="0.38"/><circle cx="671.6" cy="34.6" r="0.69" fill="#9cc040" opacity="0.31"/><circle cx="675.2" cy="35.3" r="0.79" fill="#9cc040" opacity="0.42"/><circle cx="678.8" cy="36.1" r="0.57" fill="#9cc040" opacity="0.42"/><circle cx="451.9" cy="204.7" r="1.02" fill="#6aa820" opacity="0.55"/><circle cx="455.0" cy="206.1" r="0.79" fill="#6aa820" opacity="0.74"/><circle cx="458.1" cy="207.4" r="0.97" fill="#6aa820" opacity="0.80"/><circle cx="461.2" cy="208.7" r="0.92" fill="#6aa820" opacity="0.72"/><circle cx="464.5" cy="209.6" r="0.87" fill="#6aa820" opacity="0.60"/><circle cx="467.4" cy="211.3" r="1.07" fill="#6aa820" opacity="0.51"/><circle cx="470.5" cy="212.6" r="0.93" fill="#6aa820" opacity="0.64"/><circle cx="473.8" cy="213.6" r="0.81" fill="#6aa820" opacity="0.73"/><circle cx="476.8" cy="215.2" r="0.77" fill="#6aa820" opacity="0.69"/><circle cx="479.9" cy="216.4" r="0.81" fill="#6aa820" opacity="0.71"/><circle cx="483.1" cy="217.4" r="0.80" fill="#6aa820" opacity="0.53"/><circle cx="486.2" cy="218.8" r="1.00" fill="#6aa820" opacity="0.60"/><circle cx="489.2" cy="220.2" r="0.99" fill="#6aa820" opacity="0.66"/><circle cx="492.5" cy="221.0" r="1.10" fill="#6aa820" opacity="0.77"/><circle cx="495.6" cy="222.6" r="1.04" fill="#6aa820" opacity="0.58"/><circle cx="498.7" cy="223.9" r="0.85" fill="#6aa820" opacity="0.78"/><circle cx="501.9" cy="224.8" r="0.79" fill="#6aa820" opacity="0.60"/><circle cx="504.9" cy="226.4" r="0.84" fill="#6aa820" opacity="0.61"/><circle cx="508.0" cy="227.7" r="0.76" fill="#6aa820" opacity="0.66"/><circle cx="511.2" cy="228.7" r="0.92" fill="#6aa820" opacity="0.75"/><circle cx="514.3" cy="230.1" r="0.75" fill="#6aa820" opacity="0.72"/><circle cx="517.5" cy="231.2" r="0.80" fill="#6aa820" opacity="0.49"/><circle cx="520.5" cy="232.7" r="0.92" fill="#6aa820" opacity="0.66"/><circle cx="523.8" cy="233.7" r="0.97" fill="#6aa820" opacity="0.74"/><circle cx="526.7" cy="235.5" r="0.92" fill="#6aa820" opacity="0.73"/><circle cx="529.8" cy="236.7" r="0.71" fill="#6aa820" opacity="0.72"/><circle cx="533.1" cy="237.5" r="0.71" fill="#6aa820" opacity="0.68"/><circle cx="536.1" cy="239.2" r="1.01" fill="#6aa820" opacity="0.69"/><circle cx="539.2" cy="240.4" r="0.77" fill="#6aa820" opacity="0.72"/><circle cx="542.4" cy="241.5" r="1.02" fill="#6aa820" opacity="0.61"/><circle cx="545.5" cy="242.9" r="1.11" fill="#6aa820" opacity="0.70"/><circle cx="548.6" cy="244.1" r="0.92" fill="#6aa820" opacity="0.71"/><circle cx="551.8" cy="245.2" r="1.09" fill="#6aa820" opacity="0.61"/><circle cx="554.9" cy="246.4" r="0.98" fill="#6aa820" opacity="0.75"/><circle cx="558.1" cy="247.7" r="1.05" fill="#6aa820" opacity="0.76"/><circle cx="561.2" cy="248.9" r="0.96" fill="#6aa820" opacity="0.65"/><circle cx="564.3" cy="250.3" r="1.04" fill="#6aa820" opacity="0.61"/><circle cx="567.3" cy="251.7" r="0.74" fill="#6aa820" opacity="0.72"/><circle cx="570.6" cy="252.7" r="0.84" fill="#6aa820" opacity="0.53"/><circle cx="573.5" cy="254.4" r="0.87" fill="#6aa820" opacity="0.57"/><circle cx="576.8" cy="255.2" r="0.70" fill="#6aa820" opacity="0.58"/><circle cx="579.7" cy="257.0" r="0.97" fill="#6aa820" opacity="0.73"/><circle cx="582.9" cy="258.2" r="0.70" fill="#6aa820" opacity="0.63"/><circle cx="586.1" cy="259.3" r="1.08" fill="#6aa820" opacity="0.49"/><circle cx="589.1" cy="260.8" r="0.76" fill="#6aa820" opacity="0.55"/><circle cx="589.6" cy="260.6" r="1.00" fill="#6aa820" opacity="0.67"/><circle cx="592.0" cy="258.2" r="0.76" fill="#6aa820" opacity="0.57"/><circle cx="594.3" cy="255.9" r="1.02" fill="#6aa820" opacity="0.58"/><circle cx="596.5" cy="253.4" r="1.04" fill="#6aa820" opacity="0.63"/><circle cx="599.0" cy="251.1" r="1.07" fill="#6aa820" opacity="0.77"/><circle cx="601.3" cy="248.7" r="0.92" fill="#6aa820" opacity="0.79"/><circle cx="603.6" cy="246.3" r="0.77" fill="#6aa820" opacity="0.50"/><circle cx="605.7" cy="243.7" r="1.04" fill="#6aa820" opacity="0.60"/><circle cx="608.2" cy="241.5" r="0.91" fill="#6aa820" opacity="0.57"/><circle cx="610.4" cy="238.9" r="0.97" fill="#6aa820" opacity="0.56"/><circle cx="613.1" cy="236.9" r="0.89" fill="#6aa820" opacity="0.60"/><circle cx="615.1" cy="234.2" r="1.00" fill="#6aa820" opacity="0.67"/><circle cx="617.7" cy="232.1" r="0.75" fill="#6aa820" opacity="0.58"/><circle cx="620.0" cy="229.7" r="1.07" fill="#6aa820" opacity="0.65"/><circle cx="622.2" cy="227.2" r="1.12" fill="#6aa820" opacity="0.57"/><circle cx="624.6" cy="224.8" r="0.74" fill="#6aa820" opacity="0.73"/><circle cx="627.1" cy="222.7" r="1.04" fill="#6aa820" opacity="0.75"/><circle cx="629.1" cy="220.0" r="0.71" fill="#6aa820" opacity="0.57"/><circle cx="631.5" cy="217.6" r="0.72" fill="#6aa820" opacity="0.63"/><circle cx="634.0" cy="215.4" r="1.10" fill="#6aa820" opacity="0.67"/><circle cx="636.1" cy="212.8" r="0.81" fill="#6aa820" opacity="0.73"/><circle cx="638.7" cy="210.6" r="1.09" fill="#6aa820" opacity="0.51"/><circle cx="640.8" cy="208.1" r="0.77" fill="#6aa820" opacity="0.65"/><circle cx="643.3" cy="205.8" r="0.75" fill="#6aa820" opacity="0.75"/><circle cx="645.7" cy="203.5" r="0.81" fill="#6aa820" opacity="0.50"/><circle cx="648.1" cy="201.2" r="0.89" fill="#6aa820" opacity="0.71"/><circle cx="650.4" cy="198.8" r="0.98" fill="#6aa820" opacity="0.51"/><circle cx="652.7" cy="196.4" r="0.88" fill="#6aa820" opacity="0.79"/><circle cx="654.9" cy="193.8" r="0.97" fill="#6aa820" opacity="0.48"/><circle cx="657.4" cy="191.6" r="0.99" fill="#6aa820" opacity="0.56"/><circle cx="659.6" cy="189.2" r="0.88" fill="#6aa820" opacity="0.48"/><circle cx="661.8" cy="186.6" r="1.03" fill="#6aa820" opacity="0.55"/>

<!-- ============ LEGEND A ============ -->
<g>
  <rect x="6.5" y="14.5" width="71" height="141.6" rx="1.5" fill="#fff" stroke="#333" stroke-width="1"/>
  <rect x="7" y="15" width="23.5" height="14.16" fill="#007d0f"/>
  <rect x="7" y="29.16" width="23.5" height="14.16" fill="#289600"/>
  <rect x="7" y="43.32" width="23.5" height="14.16" fill="#64af00"/>
  <rect x="7" y="57.48" width="23.5" height="14.16" fill="#aad200"/>
  <rect x="7" y="71.64" width="23.5" height="14.16" fill="#e6f000"/>
  <rect x="7" y="85.8" width="23.5" height="14.16" fill="#ffd700"/>
  <rect x="7" y="99.96" width="23.5" height="14.16" fill="#ffa500"/>
  <rect x="7" y="114.12" width="23.5" height="14.16" fill="#ff7300"/>
  <rect x="7" y="128.28" width="23.5" height="14.16" fill="#ff3700"/>
  <rect x="7" y="142.44" width="23.5" height="13.16" fill="#ff0000"/>
  <g stroke="#333" stroke-width="1">
    <line x1="30.5" y1="14.5" x2="30.5" y2="156.1"/>
    <line x1="6.5" y1="28.66" x2="77.5" y2="28.66"/>
    <line x1="6.5" y1="42.82" x2="77.5" y2="42.82"/>
    <line x1="6.5" y1="56.98" x2="77.5" y2="56.98"/>
    <line x1="6.5" y1="71.14" x2="77.5" y2="71.14"/>
    <line x1="6.5" y1="85.3" x2="77.5" y2="85.3"/>
    <line x1="6.5" y1="99.46" x2="77.5" y2="99.46"/>
    <line x1="6.5" y1="113.62" x2="77.5" y2="113.62"/>
    <line x1="6.5" y1="127.78" x2="77.5" y2="127.78"/>
    <line x1="6.5" y1="141.94" x2="77.5" y2="141.94"/>
  </g>
  <g font-size="10" fill="#222">
    <text x="32.2" y="24.5">266.4000</text>
    <text x="32.2" y="38.66">281.1915</text>
    <text x="32.2" y="52.82">295.9830</text>
    <text x="32.2" y="66.98">310.7745</text>
    <text x="32.2" y="81.14">325.5661</text>
    <text x="32.2" y="95.3">340.3576</text>
    <text x="32.2" y="109.46">355.1491</text>
    <text x="32.2" y="123.62">369.9406</text>
    <text x="32.2" y="137.78">384.7321</text>
    <text x="32.2" y="151.94">399.5236</text>
  </g>
</g>

<!-- ============ LEGEND B ============ -->
<g>
  <rect x="358.6" y="9.8" width="73" height="144.4" rx="1.5" fill="#fff" stroke="#333" stroke-width="1"/>
  <rect x="359.1" y="10.3" width="24" height="14.44" fill="#007d0f"/>
  <rect x="359.1" y="24.24" width="24" height="14.44" fill="#289600"/>
  <rect x="359.1" y="38.68" width="24" height="14.44" fill="#64af00"/>
  <rect x="359.1" y="53.12" width="24" height="14.44" fill="#aad200"/>
  <rect x="359.1" y="67.56" width="24" height="14.44" fill="#e6f000"/>
  <rect x="359.1" y="82" width="24" height="14.44" fill="#ffd700"/>
  <rect x="359.1" y="96.44" width="24" height="14.44" fill="#ffa500"/>
  <rect x="359.1" y="110.88" width="24" height="14.44" fill="#ff7300"/>
  <rect x="359.1" y="125.32" width="24" height="14.44" fill="#ff3700"/>
  <rect x="359.1" y="139.76" width="24" height="13.94" fill="#ff0000"/>
  <g stroke="#333" stroke-width="1">
    <line x1="383.1" y1="9.8" x2="383.1" y2="154.2"/>
    <line x1="358.6" y1="24.24" x2="431.6" y2="24.24"/>
    <line x1="358.6" y1="38.68" x2="431.6" y2="38.68"/>
    <line x1="358.6" y1="53.12" x2="431.6" y2="53.12"/>
    <line x1="358.6" y1="67.56" x2="431.6" y2="67.56"/>
    <line x1="358.6" y1="82" x2="431.6" y2="82"/>
    <line x1="358.6" y1="96.44" x2="431.6" y2="96.44"/>
    <line x1="358.6" y1="110.88" x2="431.6" y2="110.88"/>
    <line x1="358.6" y1="125.32" x2="431.6" y2="125.32"/>
    <line x1="358.6" y1="139.76" x2="431.6" y2="139.76"/>
  </g>
  <g font-size="10" fill="#222">
    <text x="385.2" y="19.8">-6.6689</text>
    <text x="385.2" y="34.24">-5.1441</text>
    <text x="385.2" y="48.68">-3.6193</text>
    <text x="385.2" y="63.12">-2.0945</text>
    <text x="385.2" y="77.56">-0.5697</text>
    <text x="385.2" y="92">0.9551</text>
    <text x="385.2" y="106.44">2.4799</text>
    <text x="385.2" y="120.88">4.0048</text>
    <text x="385.2" y="135.32">5.5296</text>
    <text x="385.2" y="149.76">7.0544</text>
  </g>
</g>

<!-- ============ AXES TRIADS ============ -->
<g stroke="#8a8a8a" stroke-width="1" fill="none">
  <path d="M25.4,257 L25.4,238 M25.4,257 L42.6,262.6 M25.4,257 L14.5,263.5"/>
  <path d="M378,256.2 L378,237.2 M378,256.2 L395.8,262 M378,256.2 L366.8,263.1"/>
</g>
<g fill="#6a6a6a" font-size="9.5">
  <text x="27" y="237.8">z</text>
  <text x="44" y="262">y</text>
  <text x="13" y="265.5">x</text>
  <text x="379.6" y="237.2">z</text>
  <text x="396.6" y="261.3">y</text>
  <text x="365.5" y="264.6">x</text>
</g>

<!-- ============ ANNOTATION ============ -->
<line x1="127.4" y1="241.3" x2="238.1" y2="185.1" stroke="#000" stroke-width="2.2"/>
<circle cx="238.1" cy="185.1" r="6.6" fill="#000"/>
<text transform="translate(87.18,299.8) scale(1.1658,1)" font-size="17.4" fill="#1a1a1a" stroke="#1a1a1a" stroke-width="0.22">(a)</text>
<text transform="translate(119.17,299.8) scale(0.9567,1)" font-size="17.4" fill="#1a1a1a" stroke="#1a1a1a" stroke-width="0.22">Raw</text>
<text transform="translate(160.27,299.8) scale(1.0794,1)" font-size="17.4" fill="#1a1a1a" stroke="#1a1a1a" stroke-width="0.22">mean</text>
<text transform="translate(213.46,299.8) scale(1.0681,1)" font-size="17.4" fill="#1a1a1a" stroke="#1a1a1a" stroke-width="0.22">data</text>
<text transform="translate(374.23,299.8) scale(1.2125,1)" font-size="17.4" fill="#1a1a1a" stroke="#1a1a1a" stroke-width="0.22">(b)</text>
<text transform="translate(406.27,299.8) scale(1.0738,1)" font-size="17.4" fill="#1a1a1a" stroke="#1a1a1a" stroke-width="0.22">Column</text>
<text transform="translate(477.15,299.8) scale(1.0989,1)" font-size="17.4" fill="#1a1a1a" stroke="#1a1a1a" stroke-width="0.22">normalised</text>
<text transform="translate(576.47,299.8) scale(1.0794,1)" font-size="17.4" fill="#1a1a1a" stroke="#1a1a1a" stroke-width="0.22">mean</text>
<text transform="translate(630.56,299.8) scale(1.0591,1)" font-size="17.4" fill="#1a1a1a" stroke="#1a1a1a" stroke-width="0.22">data</text>
<text transform="translate(60.90,247.8) scale(1.0878,1)" font-size="17.3" fill="#1a1a1a" stroke="#1a1a1a" stroke-width="0.22">Optical</text>
<text transform="translate(61.12,268.0) scale(1.1238,1)" font-size="17.3" fill="#1a1a1a" stroke="#1a1a1a" stroke-width="0.22">artefact</text>
</svg>
</body></html>
